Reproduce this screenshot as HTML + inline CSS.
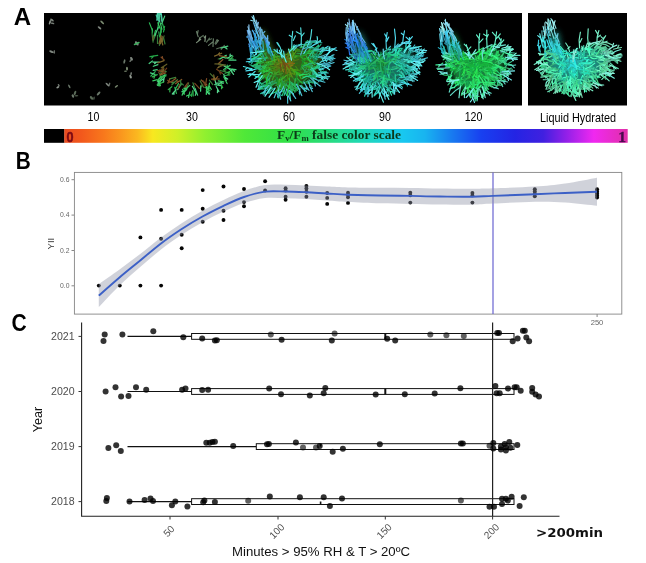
<!DOCTYPE html>
<html><head><meta charset="utf-8"><title>Figure</title>
<style>
html,body{margin:0;padding:0;background:#fff;}
svg{display:block}
text{font-family:"Liberation Sans",sans-serif}
.ser{font-family:"Liberation Serif",serif;font-weight:bold}
.dj{font-family:"DejaVu Sans",sans-serif;font-weight:bold}
.pl{font-family:"Liberation Sans",sans-serif;font-weight:bold;font-size:24px;fill:#000}
.cal{font-family:"Liberation Sans",sans-serif;font-size:12px;fill:#000}
.tk{font-size:6.8px;fill:#666}
.yr{font-size:10.6px;fill:#4d4d4d}
</style></head><body>
<svg width="646" height="563" viewBox="0 0 646 563">
<defs>
<linearGradient id="cb" x1="0" x2="1" y1="0" y2="0">
<stop offset="0" stop-color="#e84c20"/>
<stop offset="0.03" stop-color="#f2581c"/>
<stop offset="0.07" stop-color="#f8781c"/>
<stop offset="0.1" stop-color="#fa961e"/>
<stop offset="0.13" stop-color="#fbb820"/>
<stop offset="0.157" stop-color="#f8e820"/>
<stop offset="0.2" stop-color="#d0f028"/>
<stop offset="0.25" stop-color="#90f030"/>
<stop offset="0.32" stop-color="#50e838"/>
<stop offset="0.4" stop-color="#30e048"/>
<stop offset="0.47" stop-color="#28dc80"/>
<stop offset="0.53" stop-color="#20d8b8"/>
<stop offset="0.6" stop-color="#18c8f0"/>
<stop offset="0.64" stop-color="#18b4f0"/>
<stop offset="0.69" stop-color="#1878f0"/>
<stop offset="0.74" stop-color="#1840f0"/>
<stop offset="0.8" stop-color="#2424e4"/>
<stop offset="0.85" stop-color="#4020e0"/>
<stop offset="0.89" stop-color="#9020e8"/>
<stop offset="0.94" stop-color="#f028f0"/>
<stop offset="1" stop-color="#e030a8"/>
</linearGradient>
<filter id="bl" x="-5%" y="-5%" width="110%" height="110%"><feGaussianBlur stdDeviation="0.55"/></filter>
<filter id="bl2" x="-20%" y="-20%" width="140%" height="140%"><feGaussianBlur stdDeviation="3"/></filter>

<radialGradient id="g2" gradientUnits="userSpaceOnUse" cx="193" cy="63" r="48"><stop offset="0" stop-color="#802000"/><stop offset="0.5" stop-color="#b04818"/><stop offset="0.68" stop-color="#50c040"/><stop offset="0.85" stop-color="#30e070"/><stop offset="1" stop-color="#60f0b0"/></radialGradient>
<radialGradient id="g3" gradientUnits="userSpaceOnUse" cx="287" cy="66" r="50"><stop offset="0" stop-color="#706010"/><stop offset="0.25" stop-color="#4a9020"/><stop offset="0.55" stop-color="#30c050"/><stop offset="0.8" stop-color="#30d0b0"/><stop offset="1" stop-color="#50c8f0"/></radialGradient>
<radialGradient id="g4" gradientUnits="userSpaceOnUse" cx="385" cy="66" r="48"><stop offset="0" stop-color="#209050"/><stop offset="0.3" stop-color="#28b868"/><stop offset="0.6" stop-color="#30d0a0"/><stop offset="0.85" stop-color="#40d8d8"/><stop offset="1" stop-color="#60c8f0"/></radialGradient>
<radialGradient id="g5" gradientUnits="userSpaceOnUse" cx="476" cy="66" r="46"><stop offset="0" stop-color="#20a048"/><stop offset="0.4" stop-color="#30d060"/><stop offset="0.7" stop-color="#38e090"/><stop offset="1" stop-color="#60e8d8"/></radialGradient>
<radialGradient id="g6" gradientUnits="userSpaceOnUse" cx="577" cy="66" r="46"><stop offset="0" stop-color="#20b0a0"/><stop offset="0.4" stop-color="#30d8b0"/><stop offset="0.7" stop-color="#48e8a8"/><stop offset="1" stop-color="#70f0e0"/></radialGradient>
<linearGradient id="sp3" gradientUnits="userSpaceOnUse" x1="0" y1="50" x2="0" y2="15"><stop offset="0" stop-color="#30c0a0"/><stop offset="0.5" stop-color="#38a8e0"/><stop offset="1" stop-color="#80d0f0"/></linearGradient>
<linearGradient id="sp2" gradientUnits="userSpaceOnUse" x1="0" y1="48" x2="0" y2="15"><stop offset="0" stop-color="#b06020"/><stop offset="0.4" stop-color="#40c050"/><stop offset="1" stop-color="#50e0a0"/></linearGradient>
<linearGradient id="sp5" gradientUnits="userSpaceOnUse" x1="0" y1="50" x2="0" y2="15"><stop offset="0" stop-color="#30d080"/><stop offset="0.6" stop-color="#40c8d0"/><stop offset="1" stop-color="#80e0f0"/></linearGradient>
<clipPath id="c1"><rect x="44" y="13" width="478" height="92.5"/></clipPath><clipPath id="c2"><rect x="528" y="13" width="99" height="92.5"/></clipPath>
</defs>
<rect width="646" height="563" fill="#fff"/>
<text class="pl" x="13.8" y="24.6">A</text>
<rect x="44" y="13" width="478" height="92.5" fill="#000"/>
<rect x="528" y="13" width="99" height="92.5" fill="#000"/>
<g clip-path="url(#c1)">
<g filter="url(#bl)"><ellipse cx="49.8" cy="22.4" rx="2.3" ry="0.8" transform="rotate(107 49.8 22.4)" fill="#909890"/><ellipse cx="52.5" cy="23.3" rx="1.9" ry="0.8" transform="rotate(191 52.5 23.3)" fill="#909890" opacity="0.8"/><ellipse cx="52" cy="20" rx="2.1" ry="1.0" transform="rotate(36 52 20)" fill="#808880"/><ellipse cx="50.5" cy="21.4" rx="1.7" ry="0.8" transform="rotate(90 50.5 21.4)" fill="#808880" opacity="0.8"/><ellipse cx="102.2" cy="22.4" rx="2.5" ry="0.9" transform="rotate(45 102.2 22.4)" fill="#7a8a70"/><ellipse cx="99.5" cy="27.8" rx="2.2" ry="0.9" transform="rotate(39 99.5 27.8)" fill="#808880"/><ellipse cx="51.5" cy="51.7" rx="2.4" ry="1.1" transform="rotate(21 51.5 51.7)" fill="#808880"/><ellipse cx="54.3" cy="51.9" rx="1.9" ry="0.8" transform="rotate(91 54.3 51.9)" fill="#808880" opacity="0.8"/><ellipse cx="136.8" cy="43.4" rx="2.5" ry="1.2" transform="rotate(49 136.8 43.4)" fill="#808880"/><ellipse cx="131.5" cy="58.8" rx="2.0" ry="1.2" transform="rotate(62 131.5 58.8)" fill="#808880"/><ellipse cx="130.5" cy="60.7" rx="1.6" ry="0.8" transform="rotate(127 130.5 60.7)" fill="#808880" opacity="0.8"/><ellipse cx="124.4" cy="61.5" rx="2.3" ry="0.9" transform="rotate(103 124.4 61.5)" fill="#6a786a"/><ellipse cx="127" cy="68.6" rx="1.9" ry="1.0" transform="rotate(87 127 68.6)" fill="#7a8a70"/><ellipse cx="125.5" cy="71.2" rx="1.5" ry="0.8" transform="rotate(174 125.5 71.2)" fill="#7a8a70" opacity="0.8"/><ellipse cx="130.6" cy="76.6" rx="2.0" ry="1.1" transform="rotate(70 130.6 76.6)" fill="#909890"/><ellipse cx="131.1" cy="73.7" rx="1.6" ry="0.8" transform="rotate(103 131.1 73.7)" fill="#909890" opacity="0.8"/><ellipse cx="107.5" cy="84.6" rx="2.6" ry="0.8" transform="rotate(45 107.5 84.6)" fill="#808880"/><ellipse cx="109.4" cy="84.4" rx="2.0" ry="0.8" transform="rotate(106 109.4 84.4)" fill="#808880" opacity="0.8"/><ellipse cx="116.4" cy="86.4" rx="1.9" ry="0.8" transform="rotate(145 116.4 86.4)" fill="#7a8a70"/><ellipse cx="98.6" cy="93.5" rx="2.5" ry="1.0" transform="rotate(132 98.6 93.5)" fill="#6a786a"/><ellipse cx="91.5" cy="97.9" rx="2.1" ry="1.2" transform="rotate(49 91.5 97.9)" fill="#5a6a58"/><ellipse cx="94.0" cy="98.2" rx="1.7" ry="0.8" transform="rotate(98 94.0 98.2)" fill="#5a6a58" opacity="0.8"/><ellipse cx="72.9" cy="96.1" rx="1.8" ry="1.1" transform="rotate(64 72.9 96.1)" fill="#6a786a"/><ellipse cx="69.3" cy="86.4" rx="2.1" ry="0.8" transform="rotate(63 69.3 86.4)" fill="#6a786a"/><ellipse cx="57.8" cy="87.3" rx="1.6" ry="0.9" transform="rotate(149 57.8 87.3)" fill="#909890"/><ellipse cx="58.7" cy="85.2" rx="1.3" ry="0.8" transform="rotate(238 58.7 85.2)" fill="#909890" opacity="0.8"/><ellipse cx="75" cy="93" rx="2.4" ry="1.1" transform="rotate(109 75 93)" fill="#5a6a58"/><ellipse cx="76.4" cy="95.7" rx="1.9" ry="0.8" transform="rotate(177 76.4 95.7)" fill="#5a6a58" opacity="0.8"/><path d="M134.5 44.5L139 42.5" stroke="#40b060" stroke-width="1.5" stroke-linecap="round"/></g>
<g filter="url(#bl)" fill="none" stroke-linecap="round" stroke-width="1.2" opacity="0.9"><path d="M218.6 63.8L225.2 65.3M166.2 71.7L159.6 70.0M162.9 70.8l-2.8 1.3M209.4 80.2L212.8 84.6M177.4 79.6L171.9 84.8M174.6 82.2l-3.0 0.5M175.7 77.4L169.6 78.9M192.9 82.8L194.8 88.1M222.5 57.0L226.3 55.7" stroke="#409040"/><path d="M155.2 71.6L150.8 76.1M166.2 74.9L160.3 76.9M206.7 86.6L209.7 93.9M208.2 90.2l-1.8 3.4M174.8 87.3L176.4 93.3M226.2 57.5L233.3 59.0M178.5 83.6L175.7 88.5" stroke="#30d060"/><path d="M199.6 37.9L203.3 35.5M215.1 43.5L216.9 39.8M216.7 48.8L223.0 46.8M221.2 49.4L224.4 45.4M222.8 47.4l3.5 -0.2M206.6 42.2L209.5 38.2M208.1 40.2l3.6 -1.4" stroke="#607860"/><path d="M210.2 73.6L215.5 79.0M200.1 80.9L203.8 87.4M201.9 84.1l-0.2 2.7M188.6 82.8L186.2 90.2M187.4 86.5l-3.6 1.6M218.2 59.0L224.4 57.0M164.5 73.1L159.9 75.7M162.2 74.4l-3.0 -0.7" stroke="#4a7a38"/><path d="M159.3 62.2L152.9 62.1M156.1 62.2l-1.6 1.5M223.7 74.3L226.3 80.4M225.0 77.3l2.7 1.8M164.8 75.0L163.3 82.2M164.0 78.6l-3.2 2.2M222.9 65.2L229.7 69.2M206.4 90.8L209.1 94.1M227.6 58.2L232.1 55.3M229.9 56.7l0.3 -2.6M229.4 69.0L233.6 74.3M216.6 83.1L223.4 83.2M220.0 83.2l1.9 -1.4M192.4 86.3L195.9 92.5M216.2 86.5L218.9 91.6M217.6 89.1l-0.2 3.5M176.1 89.7L172.3 94.0M174.2 91.9l-0.3 2.6M214.7 78.8L216.0 84.1M158.6 80.8L157.7 85.5M158.2 83.1l2.1 2.6" stroke="#60f0a0"/><path d="M152.4 61.0L149.1 63.5M220.9 48.0L227.8 46.1M224.3 47.0l2.8 1.9M214.7 84.6L220.9 85.7M217.8 85.1l1.9 -1.3M157.9 64.6L153.3 66.3M228.3 68.1L233.5 70.2M230.9 69.1l1.1 2.8M229.5 68.8L236.0 69.6M232.8 69.2l1.6 2.2M195.1 88.5L197.6 95.1M196.3 91.8l-1.0 3.6M219.9 59.0L226.2 55.2M223.0 57.1l3.2 1.1M228.8 60.1L235.9 60.2M164.7 75.1L159.9 80.3M186.9 88.9L182.9 94.0M184.9 91.5l-3.0 0.2M155.1 74.4L150.4 72.9M181.6 83.5L177.6 89.6M157.2 69.6L153.2 70.3M200.8 85.8L200.6 91.2" stroke="#50e890"/><path d="M225.0 73.2L229.7 71.6M227.4 72.4l2.6 0.8M171.8 86.7L168.2 89.6M170.0 88.1l-0.2 3.8M192.9 90.5L193.2 96.0M165.9 75.9L158.9 78.6M164.0 81.8L157.2 84.9M160.6 83.3l-1.3 2.7M229.7 59.8L232.9 56.3M157.2 74.6L152.3 76.9M154.8 75.7l-0.9 2.5M204.9 87.3L209.9 90.6M207.4 89.0l2.1 -0.7M220.7 83.4L222.7 87.7M221.7 85.6l-0.2 3.1" stroke="#38c858"/><path d="M206.6 78.5L205.4 86.2M194.8 83.3L199.4 88.3M179.5 84.6L178.0 88.9M187.7 83.0L185.0 86.5M186.3 84.8l-0.4 3.9M164.2 59.9L161.1 57.2M162.6 58.6l-0.2 -2.1" stroke="#8a5028"/><path d="M209.5 83.2L208.0 89.5M189.9 91.8L188.5 97.5M189.2 94.7l-2.7 1.3M206.7 86.6L206.3 94.5M160.4 77.0L157.4 81.4M158.9 79.2l0.9 3.8M218.3 80.9L223.7 81.8M189.8 85.4L184.0 90.7M186.9 88.0l-2.9 0.6M223.7 69.4L230.2 65.3M226.9 67.3l0.3 -2.1M209.1 85.9L211.3 89.4M161.1 79.8L158.6 85.7M182.6 89.3L184.4 94.2M183.5 91.7l-1.4 3.5M157.2 79.6L152.8 80.8M223.7 76.8L227.1 83.6" stroke="#40e070"/><path d="M164.0 60.6L157.9 62.9M213.7 74.8L214.8 80.5M214.3 77.6l-1.1 2.3M214.5 56.1L221.7 53.2M218.1 54.7l1.4 -1.9M217.5 67.9L222.9 64.7M163.9 68.9L161.2 74.3" stroke="#8a7030"/><path d="M219.3 55.7L226.8 57.0M175.8 78.4L170.9 82.1M181.7 79.4L175.5 83.7M178.6 81.5l-2.2 -0.6M169.8 78.9L167.9 82.9M211.6 79.2L219.3 79.0M215.4 79.1l2.3 -2.5M201.3 80.0L206.9 85.0M218.3 63.7L222.9 59.5M165.7 72.9L160.0 74.6M163.3 71.5L158.2 70.6" stroke="#98602c"/><path d="M218.8 66.3L225.4 64.8M166.8 64.2L161.3 67.8M164.0 66.0l-1.4 3.7M214.9 63.9L220.6 64.1" stroke="#70682c"/><path d="M220.0 70.5L226.0 71.9M223.0 71.2l3.0 -1.6M180.6 80.4L180.8 85.3M180.7 82.9l2.7 2.1" stroke="#3a8a40"/><path d="M192.6 90.8L191.5 96.3M192.0 93.6l-1.7 1.8M225.3 75.5L229.8 74.8M227.5 75.1l1.2 -1.6M157.7 55.3L149.9 56.7M153.8 56.0l-2.2 2.2" stroke="#28b850"/><path d="M216.6 69.2L222.5 73.6M219.5 71.4l0.9 2.7M166.7 68.2L162.7 73.5M173.3 80.7L168.0 82.9M170.7 81.8l-3.2 -1.5M202.8 80.6L205.7 83.8M204.2 82.2l0.1 2.7M162.6 68.7L158.7 72.4M160.7 70.5l-3.3 -0.0" stroke="#7a4420"/><path d="M215.7 44.2L218.5 40.4M217.1 42.3l0.2 -2.5M213.0 46.5L213.4 38.9M208.5 45.4L213.1 41.7M198.2 36.7L196.5 31.6M197.4 34.1l0.7 -3.5" stroke="#708870"/><path d="M204.9 41.4L205.6 35.8M205.3 38.6l-1.3 -1.9M196.5 42.6L200.7 39.3M198.6 41.0l1.4 -3.2" stroke="#8aa088"/><path d="M159.4 45.4l1.8 -6.9M157.5 43.5l-0.0 -8.2M153.1 42.1l-1.0 -8.1M153.3 40.5l2.5 -6.3M165.0 44.0l-1.5 -6.5" stroke="#3a8a40"/><path d="M153.8 36.8l1.7 -6.5M152.2 33.2l0.2 -4.3M161.1 32.3l0.1 -4.4" stroke="#38c858"/><path d="M157.3 17.4l0.1 -4.3M162.3 21.6l-1.0 -7.9M159.7 21.9l-1.3 -4.2M156.8 20.2l1.8 -7.3M158.9 18.5l2.3 -7.6" stroke="#60e8c8"/><path d="M160.1 37.7l1.0 -8.5M157.8 29.2l0.8 -7.2M152.6 30.9l-3.2 -8.0" stroke="#30d060"/><path d="M159.5 36.4l-0.7 -4.5M164.4 29.8l-1.9 -6.0M163.5 31.9l1.1 -5.6" stroke="#28b850"/><path d="M162.4 41.1l1.7 -5.2" stroke="#4a7a38"/><path d="M159.2 17.1l0.6 -4.9M158.9 21.1l0.8 -4.9M157.9 20.2l-1.7 -5.2M161.3 21.1l0.0 -5.4M158.8 18.4l-0.2 -4.9" stroke="#50e0b0"/><path d="M160.5 43.7l0.8 -5.7M159.0 43.7l2.0 -8.0M162.4 41.7l-0.2 -5.3M162.8 45.0l-1.2 -4.4" stroke="#8a7030"/><path d="M152.5 39.8l1.3 -4.4" stroke="#70682c"/><path d="M160.0 28.3l-2.1 -5.4M161.9 29.1l-1.7 -6.3" stroke="#40e070"/><path d="M154.9 35.6l3.3 -8.0M161.7 23.8l3.0 -7.7" stroke="#50e890"/></g>
<g filter="url(#bl)" fill="none" stroke-linecap="round"><polygon points="261.8,29.0 266.3,35.4 270.1,44.3 274.6,52.6 279.7,55.2 286.1,53.9 291.2,51.3 297.6,50.1 304.0,47.5 309.1,47.5 314.2,50.1 320.6,53.3 322.5,57.1 318.1,64.8 315.5,73.7 306.5,81.4 297.6,85.2 287.4,91.6 278.4,87.8 265.6,85.2 264.3,76.3 255.4,67.3 260.5,57.1 258.6,48.1 258.0,39.2 259.9,32.8" fill="#4a8a2c" opacity="0.7" filter="url(#bl2)"/><path d="M276.2 61.3Q271.0 61.4 266.1 62.7M284.6 63.7Q288.6 66.2 288.8 70.9M288.6 66.2l-0.8 2.5M288.4 62.3Q283.4 61.9 278.4 62.1M283.4 61.9l-2.3 2.2M288.9 64.9Q285.7 70.6 285.5 77.2M282.6 72.2Q285.9 77.7 290.7 81.9M289.4 67.3Q295.4 66.6 301.1 64.7M283.5 70.4Q285.6 73.8 287.8 77.0M285.6 73.8l-0.6 4.0" stroke="#3c6414" stroke-width="1.15"/><path d="M314.8 56.6Q318.3 57.4 321.9 56.8M320.9 58.0Q325.4 59.2 329.7 57.8M315.4 77.3Q320.4 73.2 326.9 72.4M320.6 54.3Q323.0 50.9 325.6 47.8M323.0 50.9l3.5 -1.1M316.7 67.6Q319.8 69.4 323.5 69.8M319.8 69.4l2.0 4.3M308.2 69.7Q314.5 70.0 319.9 66.7" stroke="#3cc8b4" stroke-width="1.15"/><path d="M308.5 68.2Q312.0 69.2 314.6 66.8M268.7 62.3Q265.3 67.1 260.0 69.7M267.6 57.5Q261.1 57.8 255.6 61.1M261.1 57.8l-3.1 3.5M263.3 60.7Q258.1 63.0 253.0 65.5M258.1 63.0l-1.3 3.0M267.2 57.3Q263.4 61.4 257.9 62.1M264.6 58.1Q261.3 56.7 258.9 54.1M260.5 60.3Q256.4 57.0 251.2 56.5M256.4 57.0l-2.6 1.1" stroke="#28c864" stroke-width="1.15"/><path d="M282.1 72.6Q279.5 78.6 280.7 85.0M279.5 78.6l-3.7 2.8M295.7 69.0Q297.9 72.6 300.4 75.9M285.9 67.6Q291.6 69.4 296.5 72.7M291.6 69.4l1.4 4.7M278.4 70.7Q274.9 70.4 272.3 68.2M274.9 70.4l-2.0 -4.0M289.5 63.9Q293.6 64.6 297.5 63.2M280.2 58.2Q275.9 59.1 272.3 56.5M291.2 58.1Q294.9 59.1 298.6 58.0M294.9 59.1l3.9 -2.3M277.7 79.5Q280.9 81.8 281.1 85.9" stroke="#287814" stroke-width="1.15"/><path d="M285.0 78.3Q284.6 83.2 283.2 87.9M305.5 63.4Q309.3 68.2 310.8 74.1M309.3 68.2l3.0 0.8M280.3 58.7Q278.0 55.7 275.1 53.3M289.1 74.1Q292.2 76.5 294.5 79.7M287.2 81.7Q282.7 83.5 281.4 88.2M265.1 68.5Q262.6 73.4 263.2 78.8M262.6 73.4l2.0 2.7M263.9 67.4Q261.9 70.0 260.9 73.1M261.9 70.0l-3.2 1.8M289.5 49.6Q294.8 47.4 300.0 49.9M294.8 47.4l3.2 3.3M265.1 64.2Q263.0 60.1 259.0 57.7M292.0 49.4Q297.8 51.8 304.0 51.5M300.2 69.9Q301.4 65.2 306.2 63.9M301.4 65.2l3.4 0.2" stroke="#288c28" stroke-width="1.15"/><path d="M298.0 44.7Q304.5 44.5 310.9 44.1M304.5 44.5l3.0 -3.9M305.1 76.3Q310.6 76.5 315.8 78.3M310.6 76.5l2.8 -1.9M312.8 50.2Q318.0 48.7 321.0 44.2M318.0 48.7l0.3 -3.8M319.7 70.1Q323.2 71.8 325.9 74.6M323.2 71.8l3.3 -0.5M274.3 88.3Q270.5 89.8 268.9 93.5M258.5 77.6Q254.8 74.9 250.3 74.2M303.5 83.1Q309.0 79.9 315.1 81.5M309.0 79.9l2.4 1.4" stroke="#28b48c" stroke-width="1.15"/><path d="M279.4 79.0Q278.3 85.0 279.0 91.0" stroke="#3cc83c" stroke-width="1.15"/><path d="M281.7 69.9Q275.5 70.6 269.2 70.5M275.5 70.6l-2.2 -2.5M279.9 73.1Q280.2 76.8 283.4 78.8M290.3 50.7Q294.8 49.2 299.3 50.5M290.6 53.9Q291.0 49.0 295.4 47.0M291.0 49.0l3.0 -0.7M293.8 73.8Q298.0 73.2 302.1 72.3M282.4 71.3Q278.0 73.5 273.4 71.9M283.0 66.9Q287.4 69.1 292.3 70.0M287.4 69.1l3.4 -1.5M281.3 72.8Q281.1 77.0 281.2 81.2" stroke="#3c7814" stroke-width="1.15"/><path d="M284.7 57.8Q282.5 62.7 279.0 66.6M283.6 56.3Q289.1 58.4 291.5 64.0M281.4 63.5Q285.9 58.9 292.1 57.4M290.4 67.1Q289.9 62.8 291.1 58.7M289.9 62.8l-2.8 -3.3M285.4 59.0Q289.2 60.0 292.7 58.1M289.2 60.0l2.7 2.2" stroke="#787814" stroke-width="1.15"/><path d="M280.9 64.3Q274.2 63.2 269.9 57.9M274.2 63.2l-1.4 -2.6M277.2 58.4Q275.1 62.7 271.0 64.8M278.6 59.6Q274.5 59.9 272.5 63.4M274.5 59.9l-2.9 -0.8M290.1 63.5Q286.4 68.7 280.7 71.6M291.0 62.8Q290.0 58.2 292.9 54.6M280.8 68.3Q275.4 67.8 270.2 66.0M281.2 60.7Q276.4 56.6 270.4 54.6M288.3 71.9Q292.6 73.6 296.8 75.6" stroke="#508c14" stroke-width="1.15"/><path d="M269.2 72.2Q266.5 77.9 268.5 83.9M286.9 81.8Q292.4 83.4 297.9 84.8M267.9 49.2Q262.5 51.8 256.6 50.4M298.1 82.1Q303.4 81.2 308.3 83.4M303.4 81.2l3.8 -3.2" stroke="#148c3c" stroke-width="1.15"/><path d="M280.2 70.9Q277.1 72.2 274.4 74.3M277.1 72.2l-2.1 3.8M275.1 70.7Q274.9 75.5 272.4 79.6M272.1 71.6Q270.1 67.6 265.7 67.4M270.1 67.6l-4.7 0.1M285.1 54.3Q291.0 55.9 297.1 56.6M291.0 55.9l2.6 4.2M275.2 63.9Q269.0 64.5 262.9 65.8M269.0 64.5l-2.4 -1.8M280.5 56.1Q275.4 56.0 271.0 58.7M275.4 56.0l-3.6 -1.7M297.3 74.2Q301.2 74.4 305.1 74.6M283.3 76.0Q280.7 80.5 276.6 83.7M282.1 53.9Q276.5 51.5 270.3 51.7M276.5 51.5l-1.9 -2.1" stroke="#3ca028" stroke-width="1.15"/><path d="M274.8 60.3Q270.4 64.7 264.2 64.8M286.6 80.0Q281.4 83.0 275.9 85.5M281.4 83.0l-1.9 4.2M304.3 52.9Q307.9 52.6 309.7 49.4M307.9 52.6l3.4 0.8M263.9 66.5Q260.0 65.8 256.9 68.3M260.0 65.8l-1.7 1.9M293.2 87.5Q292.1 91.2 289.9 94.4M292.1 91.2l1.3 4.3M306.2 74.7Q311.5 71.7 316.5 68.2M277.1 77.8Q279.2 83.6 278.3 89.7M275.7 81.9Q271.5 86.5 265.4 88.2M301.5 69.1Q306.5 65.6 312.6 66.2M306.5 65.6l3.2 1.4M268.1 58.7Q265.6 55.4 263.3 51.9M265.6 55.4l0.4 -2.7" stroke="#28a03c" stroke-width="1.15"/><path d="M289.9 81.5Q295.3 84.6 297.5 90.5M295.3 84.6l0.0 4.1M267.3 73.9Q263.5 77.0 260.3 80.7M263.5 77.0l-3.9 0.3M266.9 57.4Q263.0 58.7 258.9 59.4M263.0 58.7l-4.5 -1.8M261.8 75.9Q259.1 78.4 257.1 81.5M264.6 66.3Q261.2 66.4 258.0 65.8M308.6 73.5Q313.2 77.9 315.7 83.7M313.2 77.9l3.2 1.2" stroke="#28b464" stroke-width="1.15"/><path d="M262.5 49.8Q258.8 43.2 255.1 36.6M258.8 43.2l0.8 -2.8M255.8 40.6Q255.0 35.6 253.0 30.9M255.0 35.6l1.5 -4.0M261.2 43.9Q260.8 39.5 260.3 35.0M260.8 39.5l-1.6 -2.2M258.8 39.0Q257.4 33.6 255.9 28.3" stroke="#3c8cc8" stroke-width="1.15"/><path d="M279.4 68.3Q274.4 68.8 271.8 73.0M274.4 68.8l-2.6 -0.7M286.3 67.8Q287.4 73.7 288.0 79.7M287.4 73.7l3.4 3.0M289.6 76.3Q289.1 80.4 285.1 80.9M287.3 53.4Q292.0 51.1 295.4 47.2M292.0 51.1l0.2 -4.7M295.7 66.4Q297.1 69.7 300.4 71.2M279.4 59.9Q275.4 65.1 273.4 71.3M287.0 68.4Q291.9 70.4 296.6 73.0M291.9 70.4l3.7 -0.2M278.9 62.3Q278.2 68.6 280.0 74.7" stroke="#3c8c14" stroke-width="1.15"/><path d="M290.0 64.2Q290.4 60.9 291.9 58.0M290.4 60.9l2.3 -1.6M282.0 68.8Q277.7 65.3 273.6 61.6M286.2 65.1Q288.1 67.7 290.3 69.8M280.7 64.5Q277.7 66.6 274.6 64.4M283.5 62.9Q279.8 67.2 274.9 70.0" stroke="#506414" stroke-width="1.15"/><path d="M311.1 70.7Q315.0 68.2 318.0 64.7M315.0 68.2l4.0 -0.8M286.9 85.2Q290.3 90.0 296.0 91.1M301.0 47.5Q305.3 44.3 310.7 44.8M286.2 83.9Q284.5 90.0 282.1 95.7M284.5 90.0l-2.7 1.5M290.4 85.9Q290.8 90.1 289.4 94.1M290.8 90.1l1.7 3.0M280.6 89.3Q275.8 92.2 270.6 94.3M290.9 83.1Q294.6 87.0 299.5 89.6" stroke="#28c878" stroke-width="1.15"/><path d="M305.9 41.8Q310.6 39.9 314.8 42.7M290.3 81.8Q291.9 86.3 294.2 90.5M291.9 86.3l-1.3 4.0M306.8 81.9Q312.4 83.0 318.0 83.1M312.4 83.0l2.3 -1.2M277.8 82.1Q272.0 84.5 266.0 86.6M264.5 72.2Q260.7 66.8 254.4 64.9M260.7 66.8l-0.8 -4.0M311.5 68.5Q316.2 72.6 320.3 77.2M316.2 72.6l0.1 3.4M310.2 51.3Q315.1 49.1 320.1 51.2" stroke="#28a064" stroke-width="1.15"/><path d="M280.9 68.0Q276.8 67.6 274.1 64.4M286.1 58.1Q288.5 55.0 292.1 53.9M288.5 55.0l0.5 -3.8M288.7 67.3Q293.0 68.1 295.6 71.7M282.3 62.1Q285.1 58.5 284.8 54.0M292.3 62.6Q289.4 67.7 287.5 73.2M289.4 67.7l0.3 2.8M289.4 65.3Q290.1 60.8 291.3 56.4" stroke="#647814" stroke-width="1.15"/><path d="M287.3 89.3Q290.5 94.2 290.5 100.0M268.1 89.3Q264.7 92.0 260.7 93.6M264.7 92.0l-0.7 3.1M315.6 62.9Q318.6 65.2 321.8 67.1M318.6 65.2l1.7 4.0M305.2 47.3Q309.8 46.4 314.3 48.1M259.2 77.0Q260.5 82.7 258.5 88.2M260.5 82.7l2.8 4.0M311.4 67.0Q314.4 72.1 318.3 76.5M314.4 72.1l-0.5 4.3M283.7 88.0Q285.1 91.8 286.7 95.5M285.1 91.8l-0.9 3.5" stroke="#28c8a0" stroke-width="1.15"/><path d="M310.0 66.0Q313.0 70.2 316.6 73.8M313.0 70.2l0.0 3.5M319.3 54.1Q322.5 51.4 323.6 47.4M322.5 51.4l-0.6 -3.0" stroke="#3cdcb4" stroke-width="1.15"/><path d="M265.3 60.5Q262.1 53.8 259.9 46.7M270.8 55.7Q268.7 49.6 266.9 43.4" stroke="#28a0a0" stroke-width="1.15"/><path d="M284.1 59.7Q289.9 58.0 295.8 57.2" stroke="#50a028" stroke-width="1.15"/><path d="M256.7 47.9Q256.4 43.5 255.0 39.2M256.4 43.5l1.8 -2.7M327.3 58.0Q330.4 57.1 333.6 57.9M330.4 57.1l2.6 3.0M322.5 61.0Q326.3 63.3 328.4 67.3" stroke="#3cb4c8" stroke-width="1.15"/><path d="M301.7 66.4Q303.4 70.1 306.9 72.3M280.5 83.0Q281.7 87.1 278.3 89.8M262.7 54.9Q259.5 51.8 255.3 50.4M305.8 53.5Q310.0 53.4 314.2 53.2M295.4 78.6Q293.9 84.7 296.1 90.6M293.9 84.7l-2.9 3.5M271.9 76.0Q267.2 75.7 262.3 75.8M300.1 47.6Q303.9 47.3 306.0 44.1" stroke="#28b450" stroke-width="1.15"/><path d="M265.5 57.7Q259.9 57.1 254.4 58.3M289.8 81.4Q291.5 87.3 295.0 92.3M270.8 86.1Q267.2 84.4 264.0 86.9M267.2 84.4l-2.3 2.1M304.6 63.5Q309.7 65.7 314.9 67.7M309.7 65.7l1.3 2.4M300.0 75.4Q304.5 71.8 310.2 70.5M304.5 71.8l2.1 -3.9M287.1 85.6Q292.3 88.2 297.9 89.6M297.0 53.2Q301.8 53.2 306.5 54.7M281.6 78.6Q283.8 83.3 283.2 88.5M283.8 83.3l2.4 1.7M275.6 79.9Q272.7 84.0 267.6 83.8M272.7 84.0l-1.9 3.4" stroke="#28a050" stroke-width="1.15"/><path d="M271.3 75.1Q269.5 78.9 266.9 82.2M269.5 78.9l0.1 4.0M289.3 78.1Q290.8 84.9 287.4 90.9M263.2 62.5Q259.4 64.3 256.1 61.5M296.4 72.8Q297.8 76.7 295.8 80.2M296.6 77.9Q299.3 80.7 302.2 83.3M306.3 54.5Q308.6 51.8 310.5 48.8M308.6 51.8l4.0 -0.9" stroke="#28b43c" stroke-width="1.15"/><path d="M302.1 60.2Q304.2 63.1 307.4 64.4M304.2 63.1l2.9 -0.2M302.3 65.4Q305.6 65.1 308.9 64.3M305.6 65.1l4.2 2.3M304.3 58.3Q308.6 60.5 313.3 61.5M293.9 70.9Q299.7 73.3 304.5 77.2" stroke="#28b428" stroke-width="1.15"/><path d="M285.9 67.7Q290.0 67.5 293.1 64.8M283.5 71.8Q281.6 65.7 278.5 60.1M281.6 65.7l1.6 -3.1M285.8 60.6Q286.7 65.6 290.8 68.6M286.7 65.6l-0.4 4.0" stroke="#8c7814" stroke-width="1.15"/><path d="M322.6 51.0Q327.6 50.5 332.4 48.7M327.6 50.5l2.9 0.8M325.5 59.5Q325.6 54.2 330.1 51.4M281.8 54.8Q277.5 52.9 274.0 49.7M277.5 52.9l-0.4 -3.9M303.8 53.7Q307.7 48.1 309.1 41.5M307.7 48.1l3.1 -1.4M310.2 47.2Q315.1 43.8 320.6 41.6M320.3 51.7Q323.9 48.4 328.2 46.3M323.9 48.4l2.9 -0.3M328.9 48.7Q333.1 49.0 336.9 50.5M333.1 49.0l3.1 -1.2M319.0 69.7Q324.9 67.8 330.8 66.0M315.1 76.2Q321.4 78.3 328.0 78.2M321.4 78.3l1.9 1.6M258.4 68.2Q252.4 70.5 246.0 70.9M252.4 70.5l-3.5 -2.1M257.9 61.0Q252.1 61.1 246.3 61.7M252.1 61.1l-2.9 -2.7M261.1 58.5Q254.2 59.7 247.2 59.0" stroke="#50dcf0" stroke-width="1.15"/><path d="M256.1 49.0Q255.2 44.5 254.3 40.0" stroke="#2878a0" stroke-width="1.15"/><path d="M256.4 37.4Q254.6 33.7 252.3 30.2M269.6 47.6Q267.3 41.8 264.2 36.5M267.3 41.8l0.5 -3.7" stroke="#50b4f0" stroke-width="1.15"/><path d="M250.2 45.4Q248.4 37.9 247.9 30.3" stroke="#508cc8" stroke-width="1.15"/><path d="M280.7 77.4Q281.2 83.3 285.9 86.9" stroke="#288c3c" stroke-width="1.15"/><path d="M260.8 54.5Q257.6 47.4 254.3 40.4" stroke="#2878b4" stroke-width="1.15"/><path d="M310.5 56.3Q313.8 57.7 316.8 56.0M313.8 57.7l3.2 1.7M313.2 52.6Q314.2 47.8 318.5 45.4M281.9 89.5Q279.1 93.3 277.9 97.8M308.4 57.9Q310.4 52.8 314.7 49.4M311.7 52.3Q314.7 50.3 318.3 50.9M314.7 50.3l4.7 1.5M307.2 42.8Q311.9 41.9 316.7 41.2M312.0 69.9Q316.6 68.4 319.5 64.4M272.5 88.0Q268.5 89.0 268.0 93.1M262.3 70.9Q257.0 68.3 251.5 65.7" stroke="#28c88c" stroke-width="1.15"/><path d="M272.9 81.0Q267.9 83.2 264.7 87.5M310.0 58.8Q312.3 55.5 316.1 54.0M312.3 55.5l1.1 -4.5M301.4 85.3Q304.3 87.7 304.7 91.5M304.3 87.7l3.1 1.7M268.1 75.9Q265.6 81.4 266.2 87.5M265.6 81.4l-3.1 2.3M261.9 71.7Q259.6 67.9 255.3 67.1M259.6 67.9l-4.0 0.7M303.5 66.3Q308.7 63.3 314.6 62.7M308.7 63.3l3.9 2.1M297.1 83.6Q300.0 88.8 299.7 94.7M300.0 88.8l-1.1 2.4M307.7 80.8Q309.0 84.5 312.1 86.9M257.0 60.6Q253.2 60.4 250.6 57.6M268.5 87.9Q263.3 89.3 258.0 89.1M263.3 89.3l-2.4 -1.9M269.9 78.1Q265.9 83.1 259.6 83.9M260.7 65.6Q255.2 66.9 249.8 64.8" stroke="#28b478" stroke-width="1.15"/><path d="M274.6 74.5Q277.4 78.6 277.9 83.6M277.4 78.6l-0.6 3.0M296.0 75.4Q296.2 80.5 298.8 85.0M301.2 66.1Q302.6 61.3 307.2 59.3M302.6 61.3l0.3 -4.7M301.1 55.9Q305.1 55.4 307.2 52.0" stroke="#148c28" stroke-width="1.15"/><path d="M318.3 64.2Q324.9 65.0 330.7 62.0M324.6 56.9Q329.7 57.6 334.0 54.7M329.7 57.6l2.6 -2.4M321.8 57.5Q327.4 57.9 331.9 61.1M293.4 50.4Q296.7 46.1 301.5 43.8M296.7 46.1l2.8 -0.5M306.1 42.8Q310.7 40.8 315.7 40.7M323.2 58.4Q329.1 59.9 335.0 58.5M329.1 59.9l2.0 -1.7M322.2 66.2Q328.3 64.7 334.1 62.5M312.9 78.0Q318.5 81.3 324.9 82.2M318.5 81.3l3.0 -1.5M309.7 77.2Q314.4 82.4 320.3 86.2M314.4 82.4l1.0 3.6M308.7 82.0Q309.5 87.1 312.3 91.6M309.5 87.1l3.1 1.4M303.9 82.1Q306.2 86.4 309.1 90.4M306.2 86.4l0.1 2.5M299.9 85.5Q302.9 88.8 306.5 91.6M302.9 88.8l3.7 -0.1M296.4 84.5Q299.9 89.7 301.8 95.7M299.9 89.7l-0.6 3.7M289.0 90.3Q293.4 93.5 295.7 98.4M293.4 93.5l0.3 2.5M286.4 89.0Q287.3 95.4 290.8 100.9M287.5 92.1Q287.6 97.7 287.7 103.2M277.7 86.8Q278.7 93.1 280.7 99.2M284.2 85.4Q281.6 91.5 277.5 96.9M281.6 91.5l-2.8 1.4M279.9 85.1Q276.6 91.2 274.2 97.7M276.6 91.2l1.1 3.9M270.0 84.1Q265.4 88.2 262.8 93.8M265.4 88.2l-0.3 4.2M264.7 84.9Q260.7 86.4 257.8 89.5M260.7 86.4l-2.6 -0.4" stroke="#50c8dc" stroke-width="1.15"/><path d="M276.9 63.4Q274.7 60.9 271.3 60.5M274.7 60.9l-3.0 1.0M281.3 60.8Q277.6 63.5 274.3 66.7M289.4 65.8Q287.3 59.6 288.3 53.1M287.3 59.6l-2.0 -2.4M283.3 66.7Q277.7 68.9 272.0 70.7M277.7 68.9l-1.6 2.2M282.9 66.9Q281.8 61.1 285.4 56.4M281.8 61.1l2.9 -1.7M285.9 61.2Q292.5 62.0 298.5 59.5M292.5 62.0l2.0 -2.1M280.4 67.7Q285.7 69.1 290.9 67.2" stroke="#507814" stroke-width="1.15"/><path d="M256.2 49.4Q254.4 45.6 253.5 41.4M260.2 47.2Q259.5 42.4 258.4 37.6M260.6 44.5Q260.9 40.1 260.3 35.7M260.9 40.1l2.8 -3.3M273.4 56.0Q271.1 51.8 269.9 47.2M271.1 51.8l-2.8 -1.6" stroke="#3cb4f0" stroke-width="1.15"/><path d="M255.3 58.1Q252.7 61.5 248.7 62.9M252.7 61.5l-1.1 2.3M275.5 92.1Q279.0 94.0 278.6 98.0M279.0 94.0l2.7 1.5" stroke="#28b4a0" stroke-width="1.15"/><path d="M306.6 56.8Q309.6 61.9 314.9 64.4M309.6 61.9l2.9 0.4M272.7 73.4Q266.8 71.6 262.6 67.1M266.8 71.6l-0.5 -2.8M269.5 73.8Q263.9 77.6 257.3 76.5M263.9 77.6l-3.0 -1.7M266.4 65.3Q263.9 69.5 261.0 73.5M289.4 84.1Q287.1 89.7 287.3 95.7" stroke="#28c850" stroke-width="1.15"/><path d="M253.7 43.3Q251.2 38.6 248.5 34.0M251.2 38.6l-4.6 -1.7M252.8 52.5Q253.1 45.2 252.3 37.9M256.3 54.0Q254.0 48.2 252.4 42.2" stroke="#288cb4" stroke-width="1.15"/><path d="M302.4 78.2Q307.2 75.3 312.7 76.1M270.7 84.3Q264.1 85.1 259.2 89.7" stroke="#28dc8c" stroke-width="1.15"/><path d="M267.0 75.5Q262.5 76.6 257.9 76.7M262.5 76.6l-3.0 2.8M267.4 68.9Q263.4 70.1 259.3 71.1M263.4 70.1l-3.0 3.2M278.6 82.2Q279.3 87.5 275.8 91.7M295.0 55.3Q300.8 57.0 306.6 55.0M300.8 57.0l3.9 3.0M273.0 59.0Q269.4 63.6 266.6 68.9M269.4 63.6l-2.5 0.3M280.7 79.7Q283.0 84.4 281.1 89.2M283.0 84.4l3.0 3.3" stroke="#28a028" stroke-width="1.15"/><path d="M258.5 37.0Q256.9 32.6 256.1 28.1M256.9 32.6l-2.1 -2.0M256.9 33.4Q256.1 28.0 256.5 22.6M252.2 41.7Q251.7 36.4 250.5 31.1" stroke="#3c8cb4" stroke-width="1.15"/><path d="M256.3 54.5Q255.6 50.3 255.7 46.0M255.6 50.3l2.9 -3.8" stroke="#3cb4dc" stroke-width="1.15"/><path d="M306.0 48.5Q309.9 46.4 312.3 42.6M309.9 46.4l0.5 -4.8M317.5 80.2Q320.6 79.5 323.8 79.6M310.2 41.6Q316.1 41.6 321.9 42.8M257.5 59.5Q253.5 56.3 251.4 51.6M253.5 56.3l-3.1 -0.7M270.1 86.3Q269.7 91.6 265.3 94.5M269.7 91.6l-2.3 1.1" stroke="#28a08c" stroke-width="1.15"/><path d="M272.6 60.5Q271.2 54.8 269.4 49.2" stroke="#148c78" stroke-width="1.15"/><path d="M263.5 50.3Q263.2 45.8 262.8 41.3" stroke="#28b4c8" stroke-width="1.15"/><path d="M258.2 46.8Q255.8 40.8 254.2 34.5" stroke="#28a0dc" stroke-width="1.15"/><path d="M293.8 57.6Q292.0 54.0 292.0 49.9" stroke="#287828" stroke-width="1.15"/><path d="M318.4 57.1Q323.2 55.8 327.8 53.7M323.2 55.8l3.2 1.3M300.7 55.0Q302.3 49.3 305.0 44.1M302.3 49.3l2.6 -1.1" stroke="#50b4c8" stroke-width="1.15"/><path d="M250.3 39.6Q249.6 34.8 248.2 30.1M259.0 36.7Q255.7 29.9 253.6 22.6M253.4 47.7Q249.5 42.3 247.6 36.0" stroke="#64c8f0" stroke-width="1.15"/><path d="M290.4 67.7Q294.0 69.6 294.6 73.5M294.0 69.6l4.0 0.7M291.7 59.1Q293.3 54.8 296.1 51.1M293.3 54.8l-0.3 -3.7" stroke="#50a014" stroke-width="1.15"/><path d="M287.8 67.3Q290.3 72.0 292.2 77.0M290.3 72.0l-0.4 2.6M289.7 59.5Q289.5 66.3 285.7 71.8M286.7 61.8Q281.4 61.6 277.0 64.8M281.4 61.6l-1.4 2.2M289.6 63.5Q290.6 59.4 292.8 55.8" stroke="#648c14" stroke-width="1.15"/><path d="M309.6 48.5Q314.1 49.6 318.7 49.1" stroke="#28a078" stroke-width="1.15"/><path d="M321.5 63.8Q326.3 63.1 330.3 66.0M326.3 63.1l2.6 2.7" stroke="#3ca0b4" stroke-width="1.15"/><path d="M326.3 61.7Q328.4 57.5 333.1 56.8M318.3 72.9Q323.3 72.6 328.2 73.0M323.3 72.6l2.9 3.3" stroke="#3cc8c8" stroke-width="1.15"/><path d="M267.5 48.0Q265.5 40.5 262.4 33.3M252.1 45.1Q249.3 38.8 247.7 32.2M249.3 38.8l-2.2 -2.0" stroke="#3c78b4" stroke-width="1.15"/><path d="M274.8 62.2Q273.6 58.2 274.3 54.1M275.9 59.5Q271.2 62.2 265.8 62.3M286.4 75.4Q284.0 77.9 281.1 79.7M296.4 73.0Q300.0 74.8 301.2 78.6" stroke="#3cb428" stroke-width="1.15"/><path d="M283.7 64.8Q285.4 69.1 286.2 73.6" stroke="#786414" stroke-width="1.15"/><path d="M313.5 60.5Q315.5 55.4 318.3 50.8M315.5 55.4l2.9 -0.7" stroke="#148c64" stroke-width="1.15"/><path d="M260.9 35.6Q257.7 29.2 254.0 23.0" stroke="#508cb4" stroke-width="1.15"/><path d="M282.4 73.5Q277.2 75.5 271.9 74.0M271.0 68.2Q268.0 73.2 265.0 78.1M268.0 73.2l-4.5 1.7" stroke="#3c8c28" stroke-width="1.15"/><path d="M260.6 37.7Q259.9 32.3 260.1 27.0M259.9 32.3l1.8 -3.0" stroke="#64a0c8" stroke-width="1.15"/><path d="M255.3 46.9Q253.1 42.2 250.2 37.9M268.2 52.1Q268.0 46.1 266.4 40.5M268.0 46.1l1.4 -3.9M250.8 53.8Q251.2 48.6 248.8 44.0M251.2 48.6l-2.1 -2.0" stroke="#3ca0f0" stroke-width="1.15"/><path d="M294.5 63.4Q289.5 62.4 284.8 64.3" stroke="#8c6414" stroke-width="1.15"/><path d="M269.1 53.6Q267.4 48.8 266.3 43.8" stroke="#28b4b4" stroke-width="1.15"/><path d="M316.0 60.4Q317.5 55.3 321.9 52.2" stroke="#14a078" stroke-width="1.15"/><path d="M315.6 74.9Q320.9 74.9 324.8 78.4M320.9 74.9l1.5 3.8" stroke="#50f0dc" stroke-width="1.15"/><path d="M314.1 49.4Q319.9 49.2 325.7 50.2M319.9 49.2l2.9 -1.9" stroke="#3cb4b4" stroke-width="1.15"/><path d="M289.1 68.2Q288.4 64.5 285.0 62.9M281.1 58.9Q283.8 61.9 285.5 65.6M283.8 61.9l-0.9 2.6" stroke="#785014" stroke-width="1.15"/><path d="M251.4 51.7Q251.8 45.8 250.8 39.8M250.4 60.6Q251.4 54.5 249.8 48.6M251.4 54.5l1.9 -1.8" stroke="#28a0c8" stroke-width="1.15"/><path d="M282.2 61.1Q285.7 65.7 285.8 71.4M285.7 65.7l-1.5 2.4M280.2 63.6Q280.9 67.3 280.8 71.1" stroke="#645014" stroke-width="1.15"/><path d="M270.3 84.5Q264.7 83.7 259.5 86.1M309.0 56.5Q313.5 57.5 315.1 61.9" stroke="#148c50" stroke-width="1.15"/><path d="M261.5 53.0Q257.5 57.0 252.1 59.1" stroke="#28dca0" stroke-width="1.15"/><path d="M319.9 62.8Q322.5 59.5 326.7 60.6M322.5 59.5l2.7 -3.0M291.8 48.2Q291.5 39.8 292.7 31.3M292.4 37.2l-3.2 -2.0M293.3 40.4l2.1 -4.6M301.1 46.4Q301.9 37.1 300.7 27.8M300.8 34.3l-4.5 -2.5M301.3 36.7l2.9 -3.7M309.6 42.9Q311.2 36.2 311.7 29.5M315.8 42.9Q318.4 39.8 317.1 36.6M316.3 43.4l4.3 -3.1M281.5 51.7Q280.7 47.3 277.6 42.9M279.0 46.0l-2.1 -3.4" stroke="#50dcdc" stroke-width="1.15"/><path d="M269.9 69.3Q266.9 71.6 263.2 72.2M266.9 71.6l-3.7 -1.0M266.3 77.4Q266.6 81.5 267.1 85.5" stroke="#28c83c" stroke-width="1.15"/><path d="M323.7 48.2Q326.9 49.2 329.8 47.5" stroke="#3cb4a0" stroke-width="1.15"/><path d="M308.7 77.7Q311.7 75.3 315.4 76.1M311.7 75.3l4.2 2.5" stroke="#14a050" stroke-width="1.15"/><path d="M299.3 75.6Q303.0 74.1 307.0 74.3" stroke="#28dc64" stroke-width="1.15"/><path d="M292.3 61.5Q286.6 59.2 281.8 55.4M286.6 59.2l-1.5 -4.5" stroke="#646414" stroke-width="1.15"/><path d="M257.8 27.9Q254.8 22.0 253.3 15.5M257.6 26.5Q254.9 21.5 252.0 16.8M254.9 21.5l-4.2 -1.2" stroke="#8cdcf0" stroke-width="1.15"/><path d="M260.8 32.2Q257.5 26.6 256.2 20.2M257.5 26.6l0.9 -4.2M252.3 39.0Q250.2 33.0 247.9 26.9M250.2 33.0l-2.7 -2.1" stroke="#78b4dc" stroke-width="1.15"/><path d="M261.9 41.0Q260.8 34.5 260.6 27.9M262.9 38.0Q262.8 33.7 261.9 29.6M262.8 33.7l2.1 -2.3" stroke="#64b4dc" stroke-width="1.15"/><path d="M269.4 44.2Q267.5 38.7 263.4 34.6M267.5 38.7l0.2 -3.2" stroke="#64b4f0" stroke-width="1.15"/><path d="M282.2 58.0Q280.9 54.1 279.4 50.4M280.9 54.1l1.0 -4.2M291.5 60.2Q290.7 54.4 288.5 49.1M327.0 55.1Q329.3 51.1 333.6 49.4M329.3 51.1l0.5 -4.3M317.5 63.2Q324.1 65.5 329.6 69.8M275.1 88.1Q272.3 92.8 269.0 97.3M271.1 87.1Q268.0 91.6 265.0 96.3M262.3 75.7Q258.1 80.9 256.0 87.3M258.1 80.9l-3.9 1.6M259.7 74.7Q254.5 74.6 249.4 73.9M264.0 51.1Q257.5 52.2 250.8 52.8M257.5 52.2l-2.8 3.1" stroke="#64f0f0" stroke-width="1.15"/><path d="M286.2 62.1Q283.6 57.0 283.7 51.2M283.6 57.0l-2.3 -2.5M290.1 51.1Q293.3 48.3 296.2 45.2M293.3 48.3l0.8 -3.5M261.0 72.8Q258.6 76.3 254.9 78.4M258.6 76.3l-3.0 0.4M255.1 71.4Q252.0 74.2 248.8 77.0M252.0 74.2l-4.2 0.3M252.1 68.8Q247.8 67.6 243.4 66.5M247.8 67.6l-2.3 1.6" stroke="#50f0f0" stroke-width="1.15"/><path d="M319.6 77.5Q324.6 76.5 329.6 76.6M324.6 76.5l3.0 2.8" stroke="#50c8c8" stroke-width="1.15"/><path d="M251.6 41.0Q250.6 35.3 247.2 30.6" stroke="#64a0dc" stroke-width="1.15"/><path d="M249.0 34.1Q249.0 29.5 248.9 24.9" stroke="#8cc8f0" stroke-width="1.15"/></g>
<g filter="url(#bl)" fill="none" stroke-linecap="round"><polygon points="359.1,30.3 363.2,36.4 366.6,45.0 370.7,53.0 375.4,55.4 381.2,54.2 385.8,51.7 391.7,50.5 397.5,48.1 402.1,48.1 406.8,50.5 412.6,53.6 414.4,57.3 410.3,64.6 408.0,73.2 399.8,80.6 391.7,84.3 382.4,90.4 374.2,86.7 362.6,84.3 361.4,75.7 353.3,67.1 357.9,57.3 356.2,48.7 355.6,40.1 357.3,33.9" fill="#24a08a" opacity="0.7" filter="url(#bl2)"/><path d="M380.2 68.4Q374.5 67.1 369.1 69.6M375.2 65.4Q372.7 67.6 369.9 69.6M372.7 67.6l-3.8 0.3M381.8 64.7Q377.4 64.5 373.2 63.7M377.4 64.5l-3.1 -3.0M377.9 59.4Q381.7 61.8 385.7 63.6M377.9 67.0Q372.4 64.3 366.3 64.8M372.4 64.3l-2.3 -3.2M377.2 60.9Q380.8 57.3 381.0 52.2M380.8 57.3l3.3 -0.9M380.4 63.7Q381.5 60.4 384.8 59.3M381.5 60.4l3.6 0.1M372.1 64.9Q367.7 65.4 363.9 63.1M367.7 65.4l-2.1 1.5" stroke="#14a050" stroke-width="1.15"/><path d="M411.0 58.3Q415.4 61.7 419.9 65.0M415.4 61.7l2.9 0.1M377.7 82.1Q379.9 87.1 383.4 91.2M408.2 72.9Q412.3 76.1 417.3 77.3M412.3 76.1l1.1 2.3M415.6 55.1Q418.9 52.0 423.3 53.3M418.9 52.0l2.5 -3.2M409.0 60.8Q414.6 58.0 420.8 59.3M363.1 83.9Q361.8 87.8 357.8 88.7M361.8 87.8l0.2 3.4M381.8 91.2Q382.3 94.8 385.7 96.2M412.1 73.0Q416.2 74.9 419.6 72.0M409.9 51.9Q415.4 52.4 419.0 48.3M388.7 89.2Q385.4 92.1 386.8 96.2M385.4 92.1l-2.1 1.7M363.7 80.8Q358.2 80.5 353.6 77.4M358.2 80.5l-2.9 0.8M408.2 79.6Q411.6 78.2 415.3 78.7M399.2 77.7Q404.7 77.1 409.9 79.0M404.7 77.1l2.3 2.5M393.8 83.2Q396.9 84.9 396.6 88.3" stroke="#3cc8c8" stroke-width="1.15"/><path d="M384.2 65.3Q384.7 68.6 386.8 71.3M382.4 60.0Q381.9 63.5 379.8 66.4M381.9 63.5l0.7 4.5M378.3 61.8Q381.3 65.1 385.6 64.2M381.2 64.9Q384.2 69.7 383.4 75.4M384.2 69.7l-2.4 3.7M381.4 71.1Q376.8 69.2 372.0 67.6M376.8 69.2l-1.4 -3.8" stroke="#28a050" stroke-width="1.15"/><path d="M396.3 51.2Q396.7 47.0 400.1 44.5M356.4 74.3Q352.6 73.3 349.3 71.1M402.2 66.2Q406.2 64.8 409.4 67.7M406.2 64.8l1.9 3.0M379.8 87.4Q378.5 92.8 373.9 95.9M378.5 92.8l-3.1 0.8M365.6 75.5Q361.4 72.0 355.9 72.6M361.4 72.0l-1.7 -2.0M397.1 79.9Q402.2 80.2 405.9 83.7M402.2 80.2l2.5 -0.6M366.0 59.0Q361.1 56.7 356.0 58.4M361.2 66.5Q356.5 69.3 351.1 70.3M356.5 69.3l-2.6 3.6M363.5 62.4Q359.0 60.9 357.3 56.5" stroke="#28dcc8" stroke-width="1.15"/><path d="M389.9 87.0Q392.2 89.8 395.2 91.9M392.2 89.8l1.1 4.0M356.9 62.4Q356.7 66.7 352.6 68.1M409.0 67.3Q411.3 69.4 414.4 69.3M411.3 69.4l2.4 3.3M408.8 69.9Q412.2 69.9 415.6 70.0M360.4 76.5Q359.7 79.7 356.8 81.1M397.1 60.7Q400.6 63.9 405.3 65.0M400.6 63.9l2.5 -0.1M363.4 60.1Q358.2 59.9 354.0 62.8M358.1 54.0Q354.2 56.9 349.3 57.3M354.2 56.9l-1.8 2.4M365.8 81.0Q364.5 85.5 362.8 89.9M364.5 85.5l1.3 2.2M395.4 83.7Q399.5 84.7 403.7 84.0M399.5 84.7l3.0 2.7M376.0 81.5Q375.2 86.8 371.1 90.1" stroke="#28c8b4" stroke-width="1.15"/><path d="M360.5 68.9Q358.8 71.3 357.1 73.7M358.8 71.3l-3.3 0.5M365.1 70.8Q362.8 73.4 360.4 75.9M362.8 73.4l-4.5 -0.2M392.9 54.7Q397.5 52.7 401.5 49.8M361.8 64.1Q360.0 60.5 356.6 58.2M390.8 54.9Q395.6 56.4 399.2 53.0M395.6 56.4l2.3 1.2" stroke="#28dca0" stroke-width="1.15"/><path d="M371.6 50.6Q367.6 52.3 363.3 51.5M388.0 74.2Q390.0 79.2 391.9 84.2M390.0 79.2l4.2 1.5M396.0 56.6Q395.3 51.6 395.2 46.5M366.1 79.8Q361.5 79.8 357.1 78.4M361.5 79.8l-2.2 -2.8M379.2 86.4Q377.1 88.7 374.1 89.5M402.0 66.6Q406.1 69.7 409.6 73.5M366.6 88.0Q366.0 91.9 369.3 93.9M366.0 91.9l-1.4 4.3M394.9 75.1Q399.7 74.3 404.1 76.6M399.7 74.3l2.1 3.3M392.8 61.3Q396.4 65.4 401.8 66.6M397.0 57.5Q397.3 52.8 399.6 48.6M383.7 81.4Q382.8 86.4 384.3 91.2" stroke="#28dcb4" stroke-width="1.15"/><path d="M362.6 83.9Q360.4 86.8 362.4 89.8M360.4 86.8l1.6 2.0M403.9 51.7Q405.8 47.1 410.5 45.6M405.8 47.1l0.4 -3.8M357.3 68.5Q351.5 69.3 345.7 69.9M351.5 69.3l-2.1 -1.1M389.7 85.1Q394.9 84.6 399.8 86.3M394.9 84.6l2.0 1.8M407.2 62.1Q412.0 62.2 416.5 60.6" stroke="#3cf0dc" stroke-width="1.15"/><path d="M371.8 86.8Q366.5 89.3 360.7 90.2M363.7 81.0Q363.2 86.8 365.7 92.0M363.2 86.8l2.4 2.7M407.0 65.0Q409.7 67.2 412.5 69.2" stroke="#3cdcdc" stroke-width="1.15"/><path d="M402.0 59.6Q407.1 59.3 411.9 61.3M407.1 59.3l1.9 3.4" stroke="#50f0dc" stroke-width="1.15"/><path d="M367.3 68.6Q361.8 67.3 357.0 70.2M391.9 69.5Q393.6 74.3 398.6 75.6M394.3 76.2Q395.5 78.8 397.3 81.0M370.2 61.9Q367.8 65.3 364.5 67.8M386.4 78.8Q391.6 79.0 396.8 78.7M391.6 79.0l3.0 -2.2M369.4 72.4Q365.9 72.2 364.1 75.3M384.0 71.8Q389.6 72.9 393.4 77.2M389.6 72.9l4.1 -0.7M394.4 73.0Q395.9 76.7 394.1 80.3M385.2 82.3Q383.8 85.5 381.7 88.3" stroke="#148c64" stroke-width="1.15"/><path d="M382.2 83.7Q386.5 86.5 389.5 90.6M363.0 58.4Q358.7 57.7 354.3 58.1M401.0 80.2Q405.1 80.8 406.9 84.5M400.6 55.6Q406.4 56.4 412.2 56.8M361.3 70.0Q362.1 75.7 359.4 80.8M354.2 64.3Q349.7 65.8 346.1 62.7M349.7 65.8l-2.0 1.2" stroke="#3cdcc8" stroke-width="1.15"/><path d="M356.9 65.7Q351.2 65.7 345.7 66.8M360.7 61.0Q355.5 62.7 350.0 62.6M404.6 55.1Q407.9 57.0 410.9 59.5M363.3 63.4Q362.8 58.9 358.7 56.9M398.5 57.0Q401.2 54.0 404.8 52.2M401.2 54.0l2.9 0.0M398.4 57.9Q403.5 55.1 409.3 55.7M403.5 55.1l2.6 2.1M373.8 78.3Q370.4 81.7 367.3 85.3M370.4 81.7l0.0 4.3M409.9 67.4Q412.8 66.8 415.7 66.2M379.2 89.0Q378.3 92.5 379.7 95.9M409.2 67.7Q410.4 70.8 413.5 71.8M400.8 68.5Q405.1 70.0 409.7 70.6M405.1 70.0l4.5 -1.4M372.3 79.4Q369.0 78.9 366.5 81.0M369.0 78.9l-2.4 2.3M368.6 81.1Q368.7 84.9 371.5 87.4M368.7 84.9l-1.0 2.7M360.4 72.1Q354.3 71.7 349.9 67.4M373.7 84.5Q374.4 88.0 377.0 90.4M407.5 55.8Q410.7 54.4 410.4 50.9M405.4 66.1Q410.0 67.4 414.2 69.7M410.0 67.4l3.9 -2.1M361.1 69.6Q359.4 73.3 355.3 73.1M370.8 75.6Q367.7 77.9 367.6 81.8M385.8 79.6Q385.0 84.5 388.2 88.4M385.0 84.5l-1.1 2.1" stroke="#28b4a0" stroke-width="1.15"/><path d="M354.1 41.2Q352.5 34.0 350.9 26.7M352.5 34.0l-3.7 -2.5M365.1 42.7Q361.6 37.9 359.3 32.4M361.6 37.9l-3.4 -1.6" stroke="#64b4f0" stroke-width="1.15"/><path d="M389.9 58.5Q389.2 53.3 390.2 48.2M367.2 76.4Q364.8 80.7 365.9 85.5M364.8 80.7l1.8 2.2M388.4 80.3Q393.8 81.4 399.3 82.1M395.2 59.3Q397.3 64.1 402.4 65.3M363.0 77.8Q359.3 76.1 355.3 75.2M359.3 76.1l-1.6 -2.5M373.5 62.5Q370.0 59.0 370.5 54.0M370.0 59.0l0.6 -3.8M364.5 72.8Q360.0 74.1 355.8 71.8M360.0 74.1l-2.6 -2.3" stroke="#14a078" stroke-width="1.15"/><path d="M385.6 62.5Q389.5 60.8 393.8 61.1M380.3 76.4Q383.0 79.7 387.2 80.2M386.2 69.6Q382.8 73.5 381.2 78.3M377.8 71.3Q375.1 65.9 370.1 62.4M367.4 67.0Q363.6 68.3 361.2 65.0M363.6 68.3l-2.1 1.2M381.7 58.3Q378.0 55.1 374.0 52.4M372.1 66.4Q368.9 64.4 365.6 66.4" stroke="#148c50" stroke-width="1.15"/><path d="M411.1 56.4Q415.2 59.8 419.8 62.6M415.2 59.8l0.8 2.8M410.1 70.6Q413.5 67.6 418.0 68.7M415.2 50.2Q417.9 51.6 420.5 53.2M380.2 60.9Q375.5 57.2 372.8 51.8M375.5 57.2l-0.2 -2.8M381.7 62.6Q378.9 57.7 378.1 52.0M378.9 57.7l0.8 -2.8M384.4 51.5Q388.2 49.8 390.5 46.3M388.2 49.8l2.4 -0.3M392.5 52.1Q394.5 47.5 398.3 44.0M394.5 47.5l3.2 -0.3M394.3 50.4Q397.8 46.0 402.5 42.9M417.8 61.5Q422.4 59.1 427.5 57.8M422.4 59.1l2.7 1.0M405.5 78.9Q409.8 80.7 414.5 81.0M375.8 85.4Q371.0 89.9 365.7 93.7M371.0 89.9l-2.9 0.1M366.6 83.1Q363.8 88.9 359.3 93.4M363.8 88.9l-3.4 0.7M351.4 59.9Q347.6 60.7 344.6 63.1M347.6 60.7l-3.6 -0.5M358.4 59.1Q353.4 57.3 349.4 53.8M353.4 57.3l-1.3 -3.0" stroke="#50c8dc" stroke-width="1.15"/><path d="M376.6 62.1Q374.6 57.5 371.6 53.4M374.6 57.5l1.1 -4.3M388.8 61.2Q388.7 67.3 387.6 73.2" stroke="#28c864" stroke-width="1.15"/><path d="M370.9 57.1Q366.8 56.4 362.9 58.1M379.8 55.8Q385.3 53.3 388.7 48.3M385.3 53.3l2.4 0.4M377.5 71.7Q375.3 73.8 373.4 76.1M380.6 80.5Q384.1 83.5 387.9 85.9M384.1 83.5l2.6 -0.1M388.9 72.1Q390.5 77.0 387.3 81.1M392.1 67.3Q396.6 66.0 400.3 68.8M396.6 66.0l3.0 -2.1" stroke="#28b478" stroke-width="1.15"/><path d="M375.0 59.2Q378.7 61.2 381.7 64.1" stroke="#148c28" stroke-width="1.15"/><path d="M381.4 78.3Q376.8 81.1 372.3 83.7M363.3 69.3Q360.3 65.7 355.7 64.8M360.3 65.7l-4.0 0.1M364.6 80.5Q360.4 81.1 358.7 85.0M369.7 64.3Q364.7 67.3 359.2 65.4M392.3 59.4Q398.7 59.2 403.6 63.4M399.4 71.2Q401.1 74.1 404.2 75.4M370.0 54.4Q367.6 57.4 364.0 55.9M385.9 75.4Q385.9 78.4 387.5 81.1M363.2 57.0Q359.1 55.5 355.0 54.0" stroke="#28b48c" stroke-width="1.15"/><path d="M353.8 37.6Q351.3 32.9 348.6 28.3M351.3 32.9l-2.2 -1.2" stroke="#50a0dc" stroke-width="1.15"/><path d="M353.4 32.0Q353.9 27.1 353.1 22.3" stroke="#78b4f0" stroke-width="1.15"/><path d="M359.7 82.5Q357.5 86.1 357.0 90.3M357.5 86.1l-2.8 1.0M408.9 49.8Q414.7 50.7 419.5 53.8M408.7 47.6Q412.7 49.6 416.1 46.8M412.7 49.6l1.8 -2.3M409.4 58.2Q413.1 55.7 417.5 55.7M413.1 55.7l3.4 1.0M412.5 58.7Q417.5 60.3 422.8 60.6M415.1 67.8Q416.4 70.9 419.6 71.9M416.4 70.9l-0.0 3.9M406.6 71.3Q409.9 74.4 410.3 78.9M409.9 74.4l-0.4 4.5" stroke="#3cb4b4" stroke-width="1.15"/><path d="M377.8 63.3Q381.3 61.5 385.0 62.8" stroke="#288c3c" stroke-width="1.15"/><path d="M375.3 72.8Q378.4 75.7 377.5 79.9M386.3 60.1Q388.9 56.9 389.1 52.7M388.9 56.9l2.8 -2.1M369.0 65.2Q365.5 60.6 366.0 54.9M380.6 67.8Q383.4 71.5 381.5 75.8M391.4 59.5Q394.7 57.1 398.9 56.6M370.8 60.4Q368.2 63.1 364.5 63.4" stroke="#14b464" stroke-width="1.15"/><path d="M385.5 68.9Q391.4 70.0 397.2 68.4M389.2 53.8Q394.4 55.9 399.3 58.5M375.8 52.4Q370.8 49.7 365.3 51.1M393.5 55.2Q396.9 54.3 400.5 54.4M381.1 71.0Q375.4 72.7 369.9 74.8M378.4 72.3Q375.4 74.8 375.1 78.8M375.4 74.8l-2.5 1.7M388.4 65.9Q390.4 61.6 394.0 58.6M367.0 61.0Q364.4 58.6 361.9 56.1M364.4 58.6l-0.5 -4.6M367.2 65.4Q363.6 69.0 358.5 68.8M363.6 69.0l-2.5 -0.8" stroke="#28c88c" stroke-width="1.15"/><path d="M372.9 84.1Q370.2 86.3 369.6 89.8M386.7 89.5Q390.0 91.5 393.7 92.2M390.0 91.5l1.5 3.6" stroke="#3cf0c8" stroke-width="1.15"/><path d="M401.1 71.6Q404.7 75.4 406.2 80.3M378.7 86.7Q376.6 90.9 374.2 94.9M357.3 68.3Q352.3 64.5 346.1 64.8M352.3 64.5l-1.4 -2.8M388.7 87.9Q392.5 90.5 397.1 91.2M392.5 90.5l1.7 3.4M403.2 62.2Q407.0 59.5 411.4 60.9" stroke="#3cc8b4" stroke-width="1.15"/><path d="M348.2 45.8Q348.0 38.2 347.3 30.6M353.8 45.9Q351.4 40.2 350.1 34.2M351.4 40.2l1.0 -2.6" stroke="#50a0f0" stroke-width="1.15"/><path d="M381.9 62.4Q379.2 65.2 376.1 67.4M383.7 59.3Q383.2 65.0 383.1 70.7" stroke="#147828" stroke-width="1.15"/><path d="M362.0 56.7Q360.6 51.7 358.2 47.1" stroke="#2878b4" stroke-width="1.15"/><path d="M352.6 44.8Q352.5 40.4 352.3 35.9M353.2 48.0Q352.4 43.7 351.0 39.6" stroke="#2864b4" stroke-width="1.15"/><path d="M362.5 52.3Q361.0 48.7 360.7 44.8M356.9 58.7Q354.4 52.7 350.8 47.3" stroke="#1464a0" stroke-width="1.15"/><path d="M369.7 56.2Q366.3 50.7 363.2 45.0M366.3 50.7l0.3 -4.1" stroke="#288cc8" stroke-width="1.15"/><path d="M398.4 78.6Q400.8 80.8 400.2 84.1M400.8 80.8l2.2 0.8M406.8 80.1Q407.4 83.1 407.4 86.1M400.6 51.9Q405.5 55.3 411.3 56.9M405.5 55.3l2.6 3.6M401.3 61.7Q404.0 56.3 409.6 54.4M416.0 60.6Q417.2 57.2 420.7 56.4M369.2 87.5Q366.8 90.0 364.1 92.3M366.8 90.0l-0.4 3.1M405.9 77.8Q409.8 79.7 413.3 77.0M409.8 79.7l2.5 -2.1" stroke="#28a0a0" stroke-width="1.15"/><path d="M388.0 62.3Q388.2 57.4 386.7 52.6M373.3 59.4Q371.3 64.3 366.3 66.2M388.0 62.3Q384.8 67.7 385.6 73.9M384.8 67.7l-3.3 2.3M369.4 71.2Q368.5 74.6 365.1 75.4M368.5 74.6l-3.6 0.9M375.2 72.4Q380.1 75.9 385.6 77.9M380.1 75.9l3.2 -1.1M368.8 67.3Q366.6 64.8 364.7 62.1M387.2 61.6Q390.7 66.9 390.5 73.1M369.3 55.5Q365.7 55.7 364.6 52.3M365.7 55.7l-4.4 -0.1M377.6 72.8Q376.0 75.3 374.1 77.7M380.1 73.6Q384.8 75.3 388.1 79.0M384.8 75.3l1.3 3.8M384.3 67.1Q378.4 65.5 372.2 65.6" stroke="#14a064" stroke-width="1.15"/><path d="M388.7 62.1Q393.5 60.8 398.1 62.6M368.0 74.3Q367.2 78.1 363.4 79.3M364.5 68.4Q360.0 68.7 355.6 70.2M360.0 68.7l-1.7 2.6M367.1 73.8Q363.2 74.1 360.6 77.1M364.9 61.7Q362.0 60.4 360.7 57.4M377.0 86.0Q373.5 87.5 371.9 91.0M388.2 52.6Q391.7 53.7 393.5 50.4M395.4 74.7Q394.8 78.8 396.1 82.8M392.6 49.4Q397.3 47.4 402.2 48.6M382.8 78.4Q383.3 82.1 387.0 82.3M362.3 60.0Q358.6 60.0 357.6 56.5M399.9 65.9Q402.7 68.9 405.3 72.1M402.7 68.9l2.8 0.8M397.1 71.5Q401.0 68.5 405.5 66.3M401.0 68.5l0.5 -3.4M365.8 50.9Q363.5 53.9 360.0 52.6" stroke="#28c8a0" stroke-width="1.15"/><path d="M417.1 58.4Q420.0 55.8 423.8 54.9M420.0 55.8l2.9 0.8M405.9 77.1Q411.3 75.1 417.1 74.3M410.0 47.3Q414.4 47.7 418.8 47.4M414.4 47.7l2.4 2.7M413.3 60.9Q416.4 59.0 419.0 61.5M409.5 50.6Q412.9 48.5 414.8 44.9M412.9 48.5l3.4 -0.3" stroke="#3cb4c8" stroke-width="1.15"/><path d="M352.1 49.3Q351.1 43.0 351.0 36.6" stroke="#3c78c8" stroke-width="1.15"/><path d="M377.8 72.8Q373.8 75.7 373.6 80.6M373.8 75.7l0.7 3.5M371.6 60.8Q366.7 60.3 363.4 56.7M372.9 63.5Q367.4 63.3 363.0 59.9M378.6 76.0Q384.0 78.5 389.7 79.7M384.0 78.5l1.3 3.4M381.9 58.2Q384.7 53.9 389.9 53.7M364.5 65.6Q361.5 66.8 358.9 68.7M365.9 69.3Q361.4 67.7 358.4 64.0" stroke="#28c878" stroke-width="1.15"/><path d="M354.4 37.6Q353.4 32.5 351.3 27.8" stroke="#3c8cc8" stroke-width="1.15"/><path d="M410.8 66.8Q414.7 66.8 417.3 69.8M414.7 66.8l1.6 3.2M383.6 88.0Q379.9 92.6 379.1 98.5" stroke="#50dcdc" stroke-width="1.15"/><path d="M364.7 55.7Q362.7 50.1 359.5 45.0M358.5 46.9Q358.7 43.0 357.8 39.2M355.8 52.3Q354.2 47.8 352.2 43.5M354.2 47.8l1.8 -3.9M362.7 45.2Q360.3 39.6 357.4 34.2M360.3 39.6l1.0 -3.9M366.0 51.9Q364.6 48.1 362.8 44.4M364.6 48.1l1.3 -4.3M355.1 57.4Q354.1 51.6 353.4 45.9M354.1 51.6l-2.7 -2.8M356.3 39.1Q356.1 35.2 355.0 31.5M356.1 35.2l1.8 -2.0M367.4 58.2Q366.9 52.9 366.8 47.7M366.9 52.9l-2.1 -2.6" stroke="#2878c8" stroke-width="1.15"/><path d="M385.1 56.6Q382.2 61.5 379.7 66.6M376.9 65.2Q379.9 66.7 380.0 70.1M380.8 56.2Q379.7 61.2 377.5 65.9M379.7 61.2l1.3 3.1M385.7 65.6Q387.5 63.2 389.5 61.0" stroke="#148c3c" stroke-width="1.15"/><path d="M380.8 58.3Q376.0 55.7 370.6 54.7M383.1 67.9Q380.9 64.2 376.6 64.3M379.6 58.4Q380.2 64.3 382.5 69.8M374.5 59.9Q371.9 62.1 370.0 64.9M371.9 62.1l-3.5 -0.2M376.8 63.3Q377.0 59.0 374.6 55.6" stroke="#14783c" stroke-width="1.15"/><path d="M354.1 52.7Q350.9 48.0 348.8 42.8M367.9 52.0Q364.6 47.2 362.4 41.7" stroke="#28a0dc" stroke-width="1.15"/><path d="M357.6 42.5Q356.1 36.8 353.6 31.5M349.8 47.7Q347.8 44.3 346.1 40.6M347.8 44.3l-2.6 -1.2" stroke="#3c8cf0" stroke-width="1.15"/><path d="M407.8 78.0Q412.6 76.4 417.0 73.8M412.6 76.4l3.4 0.6M409.0 74.2Q411.3 77.7 412.9 81.6M411.3 77.7l-0.5 2.5M412.3 66.4Q417.8 63.3 421.1 58.0" stroke="#50c8c8" stroke-width="1.15"/><path d="M380.1 62.2Q381.0 66.9 380.9 71.6M374.6 70.0Q377.4 73.4 376.0 77.6M393.9 63.0Q396.6 60.2 396.4 56.4M371.6 63.9Q368.8 66.1 368.7 69.7M368.8 66.1l0.4 2.7M382.8 58.4Q376.6 59.6 372.0 63.8M376.6 59.6l-1.9 3.6M373.3 67.4Q376.6 70.8 375.9 75.6M383.9 63.0Q388.5 62.0 393.0 60.5M388.5 62.0l1.6 -2.5" stroke="#28b464" stroke-width="1.15"/><path d="M374.9 74.1Q370.1 77.2 368.1 82.6M370.1 77.2l-3.6 0.2M368.8 76.8Q367.7 79.8 365.8 82.4M367.7 79.8l-3.0 1.1M368.3 61.5Q365.6 56.1 359.9 54.3M365.6 56.1l-0.0 -2.8M402.7 66.3Q404.9 70.3 406.3 74.6M404.9 70.3l-1.3 3.3M372.0 80.2Q368.8 84.8 365.6 89.4M405.2 74.0Q408.7 74.1 410.6 71.1M408.7 74.1l0.7 -2.8" stroke="#14a08c" stroke-width="1.15"/><path d="M364.9 62.5Q362.9 56.0 360.8 49.5M363.7 56.2Q362.2 51.9 361.4 47.4M362.2 51.9l0.8 -2.9M360.0 64.0Q359.6 56.7 358.9 49.4M359.6 56.7l-3.0 -3.0" stroke="#28a0c8" stroke-width="1.15"/><path d="M415.3 57.5Q419.5 56.5 422.7 53.4M401.4 42.8Q406.0 43.6 410.7 43.2M406.0 43.6l2.0 -2.3M401.3 82.3Q406.4 84.2 411.8 85.2M406.4 84.2l2.4 -0.6M367.9 86.2Q368.8 91.5 367.9 96.7M368.8 91.5l-2.6 2.7M363.6 75.9Q358.1 77.8 353.3 81.0M386.4 48.7Q385.0 40.6 387.2 32.5M386.9 38.2l-2.2 -4.3M386.6 41.6l2.2 -4.6M394.8 47.0Q396.3 38.1 394.5 29.1M402.6 43.6Q403.1 37.2 404.5 30.8M403.8 35.3l-2.5 -2.1M408.2 43.6Q410.7 40.6 409.4 37.6M409.0 39.7l-3.0 -2.6M409.4 40.0l3.0 -3.4M377.0 52.1Q376.5 47.9 373.5 43.6M374.7 46.6l-2.9 -3.2M375.1 50.2l1.9 -2.2" stroke="#50dcf0" stroke-width="1.15"/><path d="M386.1 63.4Q381.1 61.8 378.5 57.1M381.1 61.8l-3.0 -0.3" stroke="#28b450" stroke-width="1.15"/><path d="M411.3 62.2Q415.2 64.1 418.9 66.6M413.6 61.3Q418.3 62.0 423.1 62.4M418.3 62.0l3.1 3.3" stroke="#64f0ff" stroke-width="1.15"/><path d="M352.9 42.9Q352.1 38.7 350.0 34.8" stroke="#288cf0" stroke-width="1.15"/><path d="M351.4 40.0Q350.0 34.4 349.2 28.6" stroke="#3c78dc" stroke-width="1.15"/><path d="M358.4 55.1Q354.8 53.4 351.2 55.0M354.8 53.4l-2.9 2.7M362.2 71.7Q358.0 70.9 354.2 68.8M391.2 85.0Q387.8 90.2 389.0 96.4M400.9 59.9Q403.9 63.1 406.7 66.4M354.9 66.4Q350.5 67.7 348.4 71.6M404.8 56.7Q408.7 55.3 408.7 51.2" stroke="#28a08c" stroke-width="1.15"/><path d="M350.7 43.3Q348.9 38.6 348.4 33.6M367.5 48.9Q365.0 45.7 363.6 42.0" stroke="#2878dc" stroke-width="1.15"/><path d="M353.8 37.2Q351.5 31.6 349.4 26.0" stroke="#508cdc" stroke-width="1.15"/><path d="M355.1 32.3Q354.0 26.4 352.5 20.6M352.8 30.3Q351.9 26.3 352.2 22.3M351.9 26.3l1.7 -2.7" stroke="#78c8ff" stroke-width="1.15"/><path d="M357.0 61.6Q353.9 55.9 351.2 49.9M357.7 57.2Q356.2 50.2 355.1 43.1M356.2 50.2l-3.2 -3.2" stroke="#2878a0" stroke-width="1.15"/><path d="M349.5 44.0Q347.7 40.5 347.1 36.7M347.7 40.5l-3.0 -1.1M362.2 51.9Q358.1 45.6 354.6 39.0M358.1 45.6l1.1 -3.1" stroke="#1464b4" stroke-width="1.15"/><path d="M412.5 60.7Q415.4 57.0 418.7 53.7M415.4 57.0l4.6 -0.1" stroke="#28b4b4" stroke-width="1.15"/><path d="M358.3 46.8Q356.7 41.6 355.0 36.4M356.7 41.6l-3.5 -1.4" stroke="#288cff" stroke-width="1.15"/><path d="M354.4 33.4Q353.3 29.9 352.7 26.2" stroke="#64b4ff" stroke-width="1.15"/><path d="M408.8 75.6Q411.0 73.8 413.7 72.7" stroke="#3ca0a0" stroke-width="1.15"/><path d="M362.3 57.7Q360.3 52.5 359.3 46.9" stroke="#288cb4" stroke-width="1.15"/><path d="M361.0 50.7Q360.2 47.0 359.1 43.5" stroke="#1478a0" stroke-width="1.15"/><path d="M384.2 75.4Q382.8 80.7 382.4 86.2M382.8 80.7l-2.5 2.8" stroke="#28dc8c" stroke-width="1.15"/><path d="M371.0 61.8Q368.0 55.7 365.7 49.2" stroke="#28b4c8" stroke-width="1.15"/><path d="M354.6 33.0Q354.7 26.5 353.0 20.2M348.0 31.2Q347.7 26.9 347.8 22.6M347.7 26.9l-2.3 -2.5" stroke="#8cdcf0" stroke-width="1.15"/><path d="M360.8 34.4Q356.8 29.3 354.9 23.1M356.8 29.3l0.8 -2.6" stroke="#8cc8f0" stroke-width="1.15"/><path d="M361.5 38.7Q360.4 32.5 357.1 27.1" stroke="#64b4dc" stroke-width="1.15"/><path d="M362.1 46.7Q362.7 42.0 361.1 37.5M362.7 42.0l-2.0 -1.8" stroke="#508cf0" stroke-width="1.15"/><path d="M384.4 58.9Q383.1 54.1 383.2 49.1M399.5 46.3Q402.4 43.0 406.5 41.5M402.4 43.0l2.6 0.1M416.8 49.6Q421.7 50.3 426.6 50.6M421.7 50.3l2.1 2.4M393.9 84.6Q398.6 85.6 402.1 88.9M398.6 85.6l3.3 -1.4M393.5 82.8Q393.1 88.6 394.7 94.1M384.4 90.2Q384.1 94.7 385.2 99.1M351.0 63.1Q346.7 62.8 342.9 64.8" stroke="#64dcf0" stroke-width="1.15"/><path d="M404.4 52.5Q407.8 47.1 411.2 41.7M407.8 47.1l3.0 -1.4M408.7 49.0Q414.9 47.3 421.3 46.3M417.5 54.7Q421.6 52.7 424.3 49.0M421.6 52.7l4.1 -0.5M415.3 66.0Q419.9 63.0 424.9 60.8M414.1 64.1Q417.7 66.0 421.9 66.0M417.7 66.0l2.0 3.0M413.2 69.1Q416.2 72.1 419.8 74.3M416.2 72.1l3.8 0.2M410.2 75.4Q413.6 78.3 417.6 80.5M392.3 82.1Q395.3 87.7 399.5 92.5M395.3 87.7l-0.4 2.7M384.0 88.7Q386.3 94.1 388.9 99.4M386.3 94.1l2.1 1.3M378.1 90.8Q381.5 96.1 383.4 102.1M372.2 86.1Q371.9 91.6 372.2 97.1M371.9 91.6l-2.2 2.1M362.5 79.9Q358.5 84.2 355.8 89.4M361.7 70.8Q356.0 73.8 350.6 77.5M356.0 73.8l-2.7 -0.6M359.8 73.9Q354.2 74.4 348.8 75.7M354.2 74.4l-2.4 2.0M353.4 63.0Q348.3 66.1 343.1 69.0M354.4 62.2Q350.3 60.2 346.9 57.2" stroke="#64f0f0" stroke-width="1.15"/><path d="M349.7 54.8Q349.4 49.3 347.1 44.2M349.4 49.3l-3.5 -2.0" stroke="#2878f0" stroke-width="1.15"/><path d="M349.1 41.7Q346.9 37.3 346.3 32.3M346.9 37.3l1.8 -3.7" stroke="#64a0dc" stroke-width="1.15"/><path d="M346.9 40.5Q345.1 34.0 346.3 27.4" stroke="#78c8f0" stroke-width="1.15"/><path d="M351.4 31.1Q349.7 25.2 348.9 19.1M349.7 25.2l-2.1 -2.3" stroke="#78b4dc" stroke-width="1.15"/></g>
<g filter="url(#bl)" fill="none" stroke-linecap="round"><polygon points="452.3,31.2 456.3,37.4 459.7,46.1 463.7,54.2 468.2,56.6 473.9,55.4 478.4,52.9 484.1,51.7 489.7,49.2 494.3,49.2 498.8,51.7 504.5,54.8 506.2,58.5 502.2,65.9 499.9,74.6 492.0,82.1 484.1,85.8 475.0,92.0 467.1,88.3 455.7,85.8 454.6,77.1 446.7,68.4 451.2,58.5 449.5,49.8 448.9,41.1 450.6,34.9" fill="#26b85a" opacity="0.7" filter="url(#bl2)"/><path d="M484.5 69.4Q485.1 75.4 487.9 80.6M453.6 59.6Q450.7 59.6 447.8 60.0M450.7 59.6l-2.0 2.6M477.5 84.5Q479.4 87.6 483.0 87.5M480.3 77.8Q478.8 81.3 478.4 85.2M478.8 81.3l1.5 2.9M486.7 70.8Q489.7 72.6 491.8 75.6M489.7 72.6l-0.3 3.7" stroke="#28a050" stroke-width="1.15"/><path d="M475.8 70.6Q477.9 67.6 481.4 66.4M477.9 67.6l1.4 -3.5M466.4 70.8Q472.6 72.2 476.2 77.5M472.6 72.2l1.2 3.5M460.1 62.1Q455.7 60.8 451.4 59.5M455.7 60.8l-2.7 1.6M466.6 65.0Q462.8 63.5 460.3 60.2M462.8 63.5l-3.8 0.8M477.5 60.4Q482.4 60.4 486.7 58.1M482.4 60.4l3.5 1.9M478.1 66.6Q475.7 69.9 473.6 73.3M466.1 69.3Q468.2 73.5 469.8 77.9M468.2 73.5l2.2 1.6M488.2 65.1Q490.3 68.4 491.4 72.2M490.3 68.4l3.6 2.5M472.5 67.8Q476.2 71.7 481.2 73.7M476.2 71.7l0.3 4.2M477.8 61.9Q474.9 67.1 471.3 71.9M474.9 67.1l-2.2 0.6M477.4 68.6Q476.7 72.2 480.0 73.9M462.8 64.7Q459.2 62.7 455.3 64.1M459.2 62.7l-3.6 1.7M474.5 62.7Q472.1 66.8 468.1 69.1M475.5 59.0Q471.9 64.0 471.5 70.1" stroke="#28dc50" stroke-width="1.15"/><path d="M454.8 38.9Q452.6 34.5 450.2 30.3M452.6 34.5l0.6 -3.0" stroke="#50a0c8" stroke-width="1.15"/><path d="M464.4 81.8Q458.5 82.6 452.7 81.8M488.4 50.5Q491.7 50.9 495.0 50.4M491.7 50.9l3.7 -2.8M466.3 81.9Q463.2 83.0 460.1 83.9M463.2 83.0l-2.0 3.0M472.8 80.5Q472.2 85.2 472.3 89.9M472.2 85.2l1.4 2.4M484.3 53.3Q487.5 51.7 489.8 54.3M487.5 51.7l1.9 3.5M456.3 77.2Q455.3 81.5 456.0 85.8M485.8 83.6Q483.6 87.2 484.4 91.4M483.6 87.2l1.8 4.1M452.2 61.7Q450.6 59.0 447.5 58.6M494.4 65.9Q500.1 66.3 505.6 68.1M490.3 74.9Q491.8 77.6 494.8 78.7M452.8 66.2Q448.0 65.5 445.5 61.4M448.0 65.5l-1.0 -2.9M477.4 80.9Q477.1 85.3 478.3 89.4M477.1 85.3l1.8 2.5M461.3 61.0Q461.0 66.7 456.4 69.9M461.0 66.7l-4.1 1.3M473.0 88.8Q476.4 91.5 477.5 95.7M478.5 89.3Q474.7 90.7 474.9 94.7M474.7 90.7l-2.3 0.2M474.7 81.1Q475.2 85.1 473.1 88.6M475.2 85.1l-2.8 3.0M490.0 54.8Q489.6 50.3 493.5 48.2M473.8 78.4Q471.1 83.6 467.2 87.9M460.5 53.6Q455.0 53.8 449.4 54.1M463.5 79.4Q466.0 82.2 465.4 85.9M466.0 82.2l2.4 1.4M487.4 54.2Q491.9 55.3 495.5 58.4M486.9 70.9Q489.9 69.5 493.0 70.5M495.6 59.8Q498.6 55.8 498.4 50.8M498.6 55.8l-1.4 -4.4M450.2 59.5Q447.4 57.5 445.7 54.5M465.6 66.5Q460.6 69.2 455.7 72.3M460.6 69.2l-3.1 -1.1" stroke="#28c864" stroke-width="1.15"/><path d="M447.3 61.4Q445.4 54.1 444.0 46.8M445.4 54.1l-3.3 -1.9M448.8 53.1Q447.6 45.6 447.7 38.0" stroke="#28a0a0" stroke-width="1.15"/><path d="M488.7 51.2Q490.9 46.1 496.0 44.1M490.9 46.1l3.4 0.2M495.8 57.3Q500.7 59.7 506.0 58.2M500.7 59.7l2.6 -2.1M478.0 89.3Q477.8 93.3 477.0 97.1M499.9 77.4Q500.6 80.8 504.1 81.3M500.6 80.8l3.9 -0.1M469.1 90.2Q473.1 93.3 475.4 97.8M473.1 93.3l3.6 0.3M487.7 73.0Q492.0 76.9 497.8 77.2M451.9 75.3Q448.5 76.4 447.3 79.7M448.5 76.4l-0.3 2.5M465.6 86.8Q462.9 90.2 461.4 94.3M485.5 89.8Q482.4 93.0 481.5 97.4M471.4 91.6Q468.7 94.3 470.5 97.8M452.4 70.9Q450.3 76.0 449.2 81.4M496.9 80.0Q498.7 83.3 502.3 84.4" stroke="#3cf08c" stroke-width="1.15"/><path d="M470.0 81.4Q472.0 86.7 477.2 88.8M472.0 86.7l0.3 2.4M480.7 82.1Q477.1 84.3 476.5 88.5M477.1 84.3l-2.3 0.4M491.6 66.9Q495.5 68.0 499.3 66.5M486.9 53.3Q489.7 53.8 492.6 53.9M489.7 53.8l1.7 2.6M477.7 82.2Q482.7 81.5 487.3 83.3M485.8 81.6Q490.4 83.0 495.2 82.4M490.4 83.0l2.6 2.1M488.9 72.7Q492.0 72.0 494.7 73.6M492.0 72.0l3.6 -2.8M479.8 73.6Q483.6 77.5 489.0 78.4M483.6 77.5l2.2 3.9M484.5 66.4Q486.4 71.2 487.8 76.2M486.4 71.2l3.4 3.1" stroke="#28f078" stroke-width="1.15"/><path d="M456.9 69.8Q453.0 66.5 450.5 62.1M477.3 75.5Q474.8 79.0 476.6 83.0M474.8 79.0l-2.0 2.2M472.5 71.4Q477.6 68.4 479.3 62.7M470.3 54.1Q464.8 54.0 459.5 52.6M464.8 54.0l-1.6 -2.6M481.3 63.8Q485.9 60.6 487.8 55.4M485.9 60.6l2.9 -0.3M485.8 55.3Q487.5 51.8 488.1 47.9M487.5 51.8l3.6 -2.1M479.4 62.0Q477.6 67.8 473.3 72.1M477.6 67.8l-0.0 3.0M472.0 76.9Q475.8 79.4 476.4 83.8M483.9 67.4Q488.1 68.7 492.5 69.5M485.7 60.6Q486.7 55.6 487.2 50.6M483.1 70.6Q485.4 72.5 486.9 74.9M485.4 72.5l3.9 0.5M482.0 64.5Q487.4 64.2 490.8 60.0M476.3 58.5Q480.0 58.2 483.0 60.4M480.0 58.2l1.6 2.0M463.6 55.1Q459.9 55.7 458.0 52.5M470.2 69.5Q465.4 68.2 461.8 64.7M468.8 74.0Q466.0 74.7 463.6 76.2M477.6 62.4Q476.2 59.0 475.3 55.4M476.2 59.0l1.8 -3.2M468.6 56.8Q464.3 56.6 460.6 54.5M467.2 63.8Q462.2 62.2 459.5 57.7M462.2 62.2l-4.3 0.3M466.5 78.5Q462.9 79.3 463.2 83.0M462.9 79.3l-3.7 1.3M485.5 60.2Q489.1 60.1 492.0 58.0M489.1 60.1l2.7 0.9M473.0 81.9Q473.6 85.5 471.6 88.6M473.6 85.5l-4.0 2.1M464.7 69.0Q465.4 73.4 462.8 77.0M472.2 70.9Q470.1 73.6 466.8 72.9M470.1 73.6l-1.3 2.0M474.5 70.6Q478.5 72.9 482.7 75.0M466.8 64.8Q470.9 62.7 474.5 59.8M471.8 70.5Q468.6 68.4 465.2 70.2M468.6 68.4l-2.0 1.8M471.3 65.5Q467.7 61.7 465.9 56.8M467.7 61.7l-3.2 -0.8M482.1 80.7Q484.4 83.9 486.2 87.3M484.4 83.9l2.8 0.4M468.4 82.6Q469.3 86.4 472.1 88.9M480.7 58.8Q484.5 57.5 486.8 54.3M476.2 65.6Q477.7 69.0 475.0 71.5M477.7 69.0l-3.7 2.1M475.3 69.4Q470.2 72.9 468.0 78.6M490.5 65.9Q491.6 70.5 495.0 73.5M491.6 70.5l4.0 0.9M478.6 60.9Q481.2 55.2 479.3 49.3M482.7 57.8Q487.1 60.5 491.6 63.1M476.3 71.8Q479.1 75.0 478.6 79.2" stroke="#28c850" stroke-width="1.15"/><path d="M493.1 64.3Q496.8 66.3 500.9 67.0M457.5 62.1Q455.7 57.7 452.3 54.3M475.0 91.6Q475.0 94.7 476.9 97.2M452.7 66.5Q449.1 67.5 446.0 65.5M486.1 84.0Q485.3 87.6 488.7 89.3M468.2 92.6Q471.2 94.0 471.3 97.3M489.2 72.7Q494.3 69.8 499.3 66.5M451.8 65.2Q448.8 64.2 445.6 64.0M448.8 64.2l-2.1 1.4M461.8 77.5Q459.8 81.3 458.0 85.3M459.8 81.3l0.6 4.1M483.7 52.6Q488.6 51.8 493.3 50.2M501.4 61.0Q503.9 62.3 506.1 64.1M503.9 62.3l1.2 2.8" stroke="#28dc78" stroke-width="1.15"/><path d="M468.5 63.9Q470.1 68.6 472.9 72.9M470.1 68.6l2.5 0.7M478.9 64.8Q474.7 66.9 470.3 65.6M474.7 66.9l-2.1 2.3M490.8 60.5Q494.0 58.6 494.8 55.0M474.1 60.2Q474.7 63.7 475.9 67.1M477.3 66.4Q479.9 69.3 481.2 73.0M479.9 69.3l3.1 1.7M471.6 66.7Q470.2 69.9 472.1 73.0M470.2 69.9l1.7 2.5M469.6 63.9Q467.1 60.2 469.3 56.3M467.6 81.3Q467.9 85.4 464.5 87.8M467.9 85.4l0.3 2.7M460.2 70.1Q458.6 76.2 461.2 82.0M475.6 71.4Q476.5 66.5 475.3 61.7" stroke="#14b450" stroke-width="1.15"/><path d="M508.2 59.3Q512.3 58.3 516.4 58.7M512.3 58.3l3.0 1.4" stroke="#50b4a0" stroke-width="1.15"/><path d="M451.8 66.8Q448.7 65.6 445.4 65.8M448.7 65.6l-3.0 1.7M492.2 74.1Q495.5 79.2 494.6 85.2M475.8 93.0Q473.7 97.1 475.9 101.1M482.9 84.0Q485.9 85.5 485.9 88.8M497.1 71.3Q501.4 74.2 501.3 79.3M501.4 74.2l2.9 1.8M501.7 57.4Q503.2 52.8 505.9 48.9M503.2 52.8l-1.4 -4.3M488.9 49.1Q492.5 49.5 496.2 49.2M503.3 77.4Q506.2 76.1 508.8 74.4M506.2 76.1l1.8 -3.0M498.4 65.2Q501.0 69.8 505.3 72.9M501.0 69.8l-0.5 3.3M494.8 77.0Q497.2 80.5 499.5 84.0M497.2 80.5l0.4 4.6M497.1 61.6Q500.6 59.3 502.0 55.5M500.6 59.3l0.4 -2.9" stroke="#28c878" stroke-width="1.15"/><path d="M487.4 85.3Q490.0 86.2 492.8 86.6M500.2 70.3Q503.5 71.9 506.7 70.2M503.5 71.9l2.0 -2.2M458.1 54.1Q453.7 53.5 450.4 56.6M453.7 53.5l-3.1 -2.0M499.2 63.3Q500.7 60.2 503.8 58.8M500.7 60.2l0.1 -3.7M453.6 61.1Q447.9 59.9 443.9 55.7M480.5 85.3Q479.4 89.0 476.8 91.7M479.4 89.0l-3.8 1.6M491.1 61.2Q495.6 56.9 496.7 50.8M495.6 56.9l3.9 -2.3M455.3 54.7Q449.6 55.6 443.8 54.9M449.6 55.6l-1.7 -2.0M457.1 80.2Q453.6 82.9 451.0 86.5M491.3 75.5Q493.7 79.3 497.6 81.6M493.7 79.3l3.2 0.1M455.6 67.2Q453.5 63.9 449.6 63.6M451.6 74.3Q446.8 76.4 442.1 74.2M455.0 62.0Q452.0 59.4 448.3 60.8" stroke="#28b464" stroke-width="1.15"/><path d="M472.0 55.8Q468.0 55.1 464.0 54.2M470.6 64.4Q467.9 62.2 465.5 59.7M467.9 62.2l-3.1 -0.3M468.8 59.6Q463.5 59.3 459.1 62.3M463.5 59.3l-2.8 -1.7M458.5 66.4Q455.7 69.8 454.5 74.1M481.8 67.0Q486.0 71.7 492.3 72.0M486.0 71.7l2.9 -0.9M472.9 58.5Q472.3 63.9 469.3 68.5M472.3 63.9l2.0 3.4M473.5 59.9Q467.9 59.8 462.4 59.6M483.2 61.3Q487.6 62.5 489.9 66.4M479.6 61.7Q484.6 63.5 487.8 67.7M484.6 63.5l0.6 4.1M485.0 61.2Q488.3 64.2 491.6 67.1M476.6 67.6Q472.9 71.4 471.5 76.4M472.9 71.4l0.2 4.5M463.3 66.9Q464.4 70.1 461.7 72.3M470.5 60.2Q467.6 59.3 465.0 57.8M467.6 59.3l-2.5 0.2M470.3 63.1Q475.4 63.0 479.9 60.4M479.5 63.4Q484.0 63.3 487.0 60.0M472.2 61.8Q468.4 66.1 463.9 69.8M480.7 63.2Q483.8 64.3 486.7 66.1M479.0 69.6Q482.0 66.5 486.3 66.2" stroke="#14a03c" stroke-width="1.15"/><path d="M482.3 77.6Q487.4 77.5 491.0 80.9M487.4 77.5l3.6 -1.0M492.8 58.3Q496.1 56.2 499.6 54.7M496.1 56.2l1.2 -4.3M490.2 61.0Q493.9 57.7 498.9 58.3M493.9 57.7l1.0 -2.1M479.6 70.0Q483.9 69.8 487.5 67.6M483.9 69.8l4.1 0.9M472.4 76.8Q474.9 81.2 472.7 85.8M485.5 76.7Q490.3 77.7 495.1 77.4M490.3 77.7l3.1 3.0M486.3 57.0Q489.7 53.8 490.9 49.3M458.8 62.2Q454.6 60.7 451.1 63.3M488.4 68.3Q493.4 67.4 497.0 71.0M493.4 67.4l1.6 2.4M474.3 85.4Q473.5 88.9 472.7 92.4M473.5 88.9l2.1 3.7" stroke="#28dc64" stroke-width="1.15"/><path d="M504.5 63.5Q508.1 64.4 511.7 64.8M458.2 83.9Q454.8 87.7 449.8 88.9M454.8 87.7l-3.2 -0.4M471.3 90.8Q474.4 93.2 475.4 96.9" stroke="#3cf0a0" stroke-width="1.15"/><path d="M452.1 50.4Q449.3 44.3 447.5 37.8M449.2 53.3Q447.9 45.8 445.8 38.5M447.9 45.8l-3.4 -2.8" stroke="#288ca0" stroke-width="1.15"/><path d="M446.1 37.5Q445.6 32.9 444.0 28.5M445.6 32.9l0.8 -2.6M450.4 46.2Q449.0 38.8 446.8 31.7M449.0 38.8l1.3 -3.7M454.6 49.4Q454.6 43.0 454.0 36.6M454.6 43.0l-2.3 -1.9" stroke="#50c8dc" stroke-width="1.15"/><path d="M472.8 59.0Q467.5 60.1 463.2 57.0M465.7 59.4Q460.8 60.2 457.2 56.7M460.8 60.2l-2.4 -3.9M464.0 66.5Q465.1 71.3 462.0 75.2M477.3 66.6Q476.7 72.2 473.3 76.8M468.3 55.4Q474.5 54.8 479.6 51.2" stroke="#28f050" stroke-width="1.15"/><path d="M484.6 62.0Q486.9 66.6 490.7 70.1M486.9 66.6l0.2 2.9M467.1 65.6Q471.8 67.0 476.7 66.2M471.8 67.0l2.1 -1.6M482.4 65.6Q485.9 64.8 489.3 64.1M485.9 64.8l2.6 -3.7M478.4 63.6Q482.1 60.0 481.3 54.9M485.9 64.7Q488.7 69.0 491.0 73.6M488.7 69.0l3.2 1.6M465.1 58.9Q460.9 58.5 459.1 62.4M470.8 55.7Q466.5 53.9 461.9 54.7M466.5 53.9l-3.3 1.5M472.3 70.0Q467.2 67.2 461.6 68.8M487.2 63.6Q491.6 66.5 496.5 64.8M478.3 72.3Q480.5 75.9 484.3 77.9M480.5 75.9l3.4 -0.2M473.8 65.1Q468.8 64.0 464.1 66.0M455.7 67.3Q454.0 70.2 450.7 70.4M454.0 70.2l-3.6 -0.9M478.2 63.1Q482.8 65.8 483.4 71.0M477.3 68.2Q480.4 64.7 484.8 63.1" stroke="#14b43c" stroke-width="1.15"/><path d="M452.5 70.0Q450.1 65.5 445.4 63.7M465.0 74.8Q463.8 79.7 467.3 83.4M463.8 79.7l-1.2 2.9M467.9 80.2Q469.4 83.0 467.9 85.8M469.4 83.0l-3.3 3.0M490.6 68.8Q494.3 73.5 494.3 79.5" stroke="#14a050" stroke-width="1.15"/><path d="M487.4 84.1Q490.3 83.7 493.3 84.0M477.2 52.4Q479.6 49.7 482.9 48.1M483.4 59.1Q480.8 55.5 481.4 51.2M478.4 58.5Q478.8 53.7 483.1 51.4M475.3 76.1Q478.7 78.0 479.4 81.8M479.5 75.1Q477.7 77.7 476.1 80.3M477.7 77.7l0.6 3.4M479.5 54.8Q482.6 52.6 486.4 53.5M482.6 52.6l2.1 -1.8M482.5 61.0Q487.6 61.6 492.5 63.2M458.2 77.5Q457.3 80.5 457.8 83.6M457.3 80.5l-2.2 3.0M454.1 68.8Q450.2 66.2 445.6 65.2M450.2 66.2l-1.3 -3.2" stroke="#28f064" stroke-width="1.15"/><path d="M449.8 43.1Q448.5 39.0 446.8 35.0M446.1 43.0Q444.0 38.9 443.0 34.4" stroke="#3ca0b4" stroke-width="1.15"/><path d="M498.1 63.9Q498.9 57.6 503.7 53.4M470.2 90.8Q466.3 94.1 461.3 95.3M489.4 83.8Q494.0 82.9 497.0 86.5" stroke="#3cc878" stroke-width="1.15"/><path d="M450.7 58.5Q450.9 55.3 448.6 53.2M450.9 55.3l1.5 -4.0M482.3 59.0Q485.1 55.7 489.3 54.9M487.3 55.2Q490.5 54.4 493.2 56.2M481.3 69.7Q486.0 67.1 491.4 67.3M485.3 73.8Q489.6 77.3 494.7 79.8M489.6 77.3l0.7 3.8M465.1 83.2Q465.8 87.8 468.2 91.7M494.9 63.1Q498.3 60.5 500.9 57.1M468.5 75.0Q468.1 78.9 464.5 80.7" stroke="#28b450" stroke-width="1.15"/><path d="M509.1 50.4Q510.7 53.5 514.2 52.9M510.7 53.5l1.0 3.8M449.2 61.0Q446.1 58.5 442.4 57.0M505.3 63.5Q506.8 58.2 511.5 55.2M502.4 71.5Q507.6 71.9 511.2 68.0M507.6 71.9l1.5 -1.8M496.4 75.9Q502.3 75.2 507.4 72.2" stroke="#3cb48c" stroke-width="1.15"/><path d="M500.0 76.4Q502.8 78.4 505.7 80.3" stroke="#50b48c" stroke-width="1.15"/><path d="M458.9 55.3Q457.0 49.3 454.0 43.8M457.0 49.3l-3.4 -1.6M445.2 57.9Q444.0 53.8 442.5 49.8M444.0 53.8l-2.2 -1.4M456.9 51.1Q454.6 46.8 452.2 42.6M454.6 46.8l-3.8 -2.4" stroke="#28c8c8" stroke-width="1.15"/><path d="M488.7 54.8Q494.4 54.9 497.8 59.4M481.2 85.3Q477.4 88.8 475.1 93.3" stroke="#3cff8c" stroke-width="1.15"/><path d="M459.2 60.3Q456.1 53.6 452.6 47.0M456.1 53.6l-2.2 -1.0" stroke="#14a078" stroke-width="1.15"/><path d="M453.5 54.8Q452.3 50.5 450.2 46.6M452.3 50.5l-2.6 -1.4M462.1 55.9Q459.4 48.9 456.1 42.2M459.4 48.9l0.4 -3.8" stroke="#28b4a0" stroke-width="1.15"/><path d="M449.9 61.5Q446.0 59.1 442.9 55.9M505.6 66.7Q507.7 63.0 511.8 61.5M499.7 63.8Q502.2 61.5 505.5 60.5M502.2 61.5l3.1 0.0" stroke="#3cc88c" stroke-width="1.15"/><path d="M458.7 57.6Q458.5 52.9 457.9 48.2M448.1 57.2Q445.3 50.1 441.7 43.4M445.3 50.1l-4.0 -2.0M461.4 56.2Q458.6 50.3 455.6 44.6M458.6 50.3l-4.1 -2.2" stroke="#288c8c" stroke-width="1.15"/><path d="M500.9 51.9Q506.5 50.2 512.3 50.2M506.5 50.2l2.1 -3.2M474.0 59.0Q470.8 55.9 467.8 52.4M470.8 55.9l-3.9 -0.9M482.6 59.3Q482.0 53.5 483.4 47.9M482.0 53.5l2.2 -3.2M481.8 50.4Q486.4 46.4 492.1 44.6M492.9 46.8Q499.2 46.2 505.5 44.9M499.2 46.2l1.7 -2.4M507.6 57.2Q513.5 55.0 519.9 55.4M508.2 65.0Q512.0 65.6 515.7 65.0M512.0 65.6l2.2 2.0M498.4 80.4Q503.0 81.2 507.7 82.0M503.0 81.2l2.1 2.8M497.7 80.5Q500.9 82.9 502.7 86.6M489.9 85.4Q493.8 87.9 498.4 88.8M493.8 87.9l3.2 -0.8M485.3 88.0Q487.5 91.5 489.7 95.1M487.5 91.5l3.6 1.8M478.0 88.4Q477.9 94.6 477.1 100.8M477.9 94.6l-2.5 1.8M460.2 87.6Q454.6 90.5 450.4 95.3M454.2 80.7Q450.7 85.9 449.2 92.1M447.2 72.3Q443.8 74.1 440.0 74.2M443.8 74.1l-3.5 -1.9M453.2 54.2Q447.9 53.7 442.6 53.5M447.9 53.7l-2.7 -1.7" stroke="#64dcc8" stroke-width="1.15"/><path d="M463.7 59.7Q460.0 54.2 457.3 48.1" stroke="#28c8a0" stroke-width="1.15"/><path d="M507.2 59.6Q511.9 56.8 516.1 53.2M507.7 56.1Q509.4 51.8 512.7 48.6" stroke="#78ffdc" stroke-width="1.15"/><path d="M453.9 44.8Q452.0 38.6 450.4 32.4M461.1 50.2Q457.9 44.8 454.8 39.2M457.9 44.8l1.1 -2.9M461.7 54.3Q460.4 48.7 457.2 43.9M460.4 48.7l-2.3 -0.6" stroke="#3cc8dc" stroke-width="1.15"/><path d="M506.6 51.2Q509.5 48.3 513.4 49.5M507.2 53.3Q511.4 57.5 517.3 57.9M511.4 57.5l2.1 3.0" stroke="#64dcb4" stroke-width="1.15"/><path d="M495.6 64.6Q500.3 67.8 505.4 69.8M491.6 76.2Q495.6 76.3 498.2 79.4M495.6 76.3l1.4 2.3M479.1 75.9Q482.8 79.6 484.1 84.7M459.1 79.6Q453.6 80.4 448.2 79.3M493.6 72.7Q497.6 74.7 501.7 76.3M470.3 85.6Q468.4 88.9 464.7 88.3M468.4 88.9l-1.2 3.2" stroke="#3cf078" stroke-width="1.15"/><path d="M442.3 40.7Q442.7 34.0 441.9 27.3M442.7 34.0l1.8 -2.7" stroke="#50b4b4" stroke-width="1.15"/><path d="M456.0 58.5Q450.6 59.4 446.6 55.6" stroke="#28a064" stroke-width="1.15"/><path d="M447.8 36.1Q446.7 29.1 445.7 21.9" stroke="#50a0a0" stroke-width="1.15"/><path d="M450.5 55.9Q449.7 51.0 449.4 46.1" stroke="#3cc8c8" stroke-width="1.15"/><path d="M472.9 94.9Q475.8 96.6 477.5 99.5M475.8 96.6l3.3 -0.3M443.5 69.7Q440.6 68.7 437.6 69.5" stroke="#50f0a0" stroke-width="1.15"/><path d="M482.8 86.2Q484.7 91.9 482.7 97.6M442.9 63.0Q440.3 64.6 438.5 66.9M440.3 64.6l-4.4 0.3M452.6 56.4Q447.1 56.1 443.2 59.9M447.1 56.1l-3.9 -1.2M499.2 60.5Q502.9 61.9 505.6 59.0M502.9 61.9l3.3 1.7M499.8 68.7Q505.1 69.8 509.0 73.6" stroke="#3cdc8c" stroke-width="1.15"/><path d="M495.1 85.6Q498.2 85.0 501.3 85.3M498.2 85.0l2.4 -2.2M504.2 67.2Q508.3 68.5 512.5 69.3M450.9 77.9Q451.1 82.1 447.9 84.9M451.1 82.1l0.7 2.3M491.3 75.9Q497.1 76.0 501.3 80.1" stroke="#3cb478" stroke-width="1.15"/><path d="M452.9 60.9Q451.7 54.6 450.5 48.3" stroke="#28b48c" stroke-width="1.15"/><path d="M504.8 52.6Q508.5 54.2 512.5 54.9M508.5 54.2l2.5 3.1" stroke="#50ffb4" stroke-width="1.15"/><path d="M485.3 82.4Q487.9 86.0 486.8 90.3M487.7 78.2Q489.1 82.8 491.6 87.0M489.1 82.8l-0.6 3.5" stroke="#3cdc78" stroke-width="1.15"/><path d="M459.5 59.9Q458.8 54.3 458.8 48.7M458.8 54.3l1.5 -1.8M459.0 51.8Q457.4 47.9 456.7 43.8" stroke="#28a08c" stroke-width="1.15"/><path d="M451.2 76.3Q449.2 78.5 446.8 80.3" stroke="#3cffa0" stroke-width="1.15"/><path d="M443.1 41.2Q442.4 35.1 440.7 29.3M442.4 35.1l1.3 -2.6M442.2 45.8Q441.8 41.0 441.7 36.2M452.9 39.6Q450.6 34.9 448.0 30.3" stroke="#28a0b4" stroke-width="1.15"/><path d="M500.1 50.6Q505.3 49.9 509.8 47.2M472.3 90.4Q472.5 94.8 474.7 98.7M472.5 94.8l2.3 1.6M473.8 89.1Q476.3 93.7 475.6 98.9" stroke="#50dca0" stroke-width="1.15"/><path d="M449.3 44.6Q447.8 38.2 446.5 31.8" stroke="#3cb4c8" stroke-width="1.15"/><path d="M444.5 54.0Q444.6 50.1 443.6 46.4" stroke="#28c8b4" stroke-width="1.15"/><path d="M446.4 42.3Q446.1 37.5 446.1 32.6M446.1 37.5l1.5 -2.3" stroke="#3ca0c8" stroke-width="1.15"/><path d="M451.5 31.8Q447.9 26.3 444.9 20.4M446.8 30.0Q445.2 24.8 445.4 19.3M445.2 24.8l-1.7 -1.9M452.8 31.3Q449.2 27.3 447.1 22.4M449.2 27.3l-0.1 -3.4" stroke="#8cdcf0" stroke-width="1.15"/><path d="M447.6 39.0Q447.2 33.5 446.5 28.0M447.2 33.5l2.0 -3.5M456.8 40.8Q455.3 36.5 452.3 33.0M441.1 44.3Q440.0 39.2 439.8 33.9" stroke="#64dcf0" stroke-width="1.15"/><path d="M448.7 43.3Q447.0 39.5 446.5 35.4M442.7 52.7Q440.9 49.4 440.7 45.5M440.9 49.4l-2.6 -1.8M442.8 54.1Q440.5 48.7 440.4 42.8" stroke="#28b4c8" stroke-width="1.15"/><path d="M448.3 38.4Q446.6 34.9 444.4 31.7M446.6 34.9l-0.0 -3.4" stroke="#3cc8f0" stroke-width="1.15"/><path d="M454.2 40.5Q452.0 34.7 450.8 28.7M452.0 34.7l-2.6 -2.0" stroke="#78c8dc" stroke-width="1.15"/><path d="M470.0 58.7Q468.5 54.7 464.9 52.5M468.5 54.7l0.2 -2.6M505.2 57.2Q511.3 57.9 517.3 59.5M511.3 57.9l1.7 2.9M501.7 72.1Q508.1 71.0 514.5 70.9M508.1 71.0l2.5 2.2M504.0 75.2Q507.5 77.8 511.4 79.9M507.5 77.8l1.0 2.6M473.1 94.6Q473.2 98.8 470.4 101.9M473.2 98.8l1.3 3.7M473.4 88.5Q470.1 93.2 466.2 97.5M470.1 93.2l-0.3 2.7M458.9 79.5Q453.4 81.1 447.7 81.7M453.4 81.1l-1.5 2.5M447.6 74.0Q443.5 71.5 438.7 71.5M446.8 64.3Q442.8 65.4 438.8 64.8" stroke="#78f0f0" stroke-width="1.15"/><path d="M469.7 58.2Q472.9 54.0 475.9 49.7M472.9 54.0l3.7 -1.1M489.8 55.2Q492.8 49.9 494.6 44.1M491.3 50.9Q496.8 47.6 500.2 42.2M496.8 47.6l2.6 -0.2M502.2 48.3Q506.5 46.7 511.1 46.6M506.5 46.7l1.7 -1.8M502.9 49.5Q508.0 49.3 513.1 49.1M508.0 49.3l2.2 -1.5M500.5 74.3Q505.9 73.7 511.3 74.0M505.9 73.7l2.5 2.5M482.2 86.7Q484.2 92.0 485.2 97.6M484.2 92.0l3.0 1.8M479.8 89.5Q480.9 94.4 483.2 98.8M480.9 94.4l2.3 1.8M465.4 86.9Q464.3 92.2 464.4 97.6M464.3 92.2l-2.3 1.9M460.5 86.1Q459.5 91.8 459.0 97.7M458.7 80.2Q452.7 81.5 446.6 81.3M452.7 81.5l-3.0 -2.5M449.2 67.7Q443.1 68.2 436.9 68.2M451.0 59.6Q446.1 58.0 441.6 55.7" stroke="#78f0dc" stroke-width="1.15"/><path d="M441.9 41.3Q441.5 34.7 439.5 28.5" stroke="#78dcf0" stroke-width="1.15"/><path d="M441.9 31.6Q443.1 27.0 441.5 22.5M444.1 34.5Q443.8 28.9 442.2 23.5M443.8 28.9l-3.3 -2.2" stroke="#a0f0f0" stroke-width="1.15"/><path d="M479.0 49.9Q478.5 41.7 479.7 33.5M479.5 39.2l-3.0 -4.3M479.3 42.8l3.7 -3.9M487.1 48.1Q486.5 39.1 486.8 30.0M486.9 36.4l-3.2 -2.2M486.2 38.9l2.1 -4.3M494.7 44.7Q496.0 38.2 496.6 31.8M495.9 36.3l-3.5 -4.0M496.4 38.7l3.9 -4.8M500.2 44.7Q501.2 41.7 501.3 38.7M500.9 40.8l-2.3 -3.9M501.4 43.0l2.4 -3.1M469.8 53.3Q466.8 49.0 466.4 44.7M467.6 47.7l-3.4 -3.6M467.2 50.7l3.7 -3.9" stroke="#64f0c8" stroke-width="1.15"/></g>
</g><g clip-path="url(#c2)">
<g filter="url(#bl)" fill="none" stroke-linecap="round"><polygon points="556.6,30.0 559.1,36.0 560.2,44.4 562.7,52.2 567.7,54.6 574.0,53.4 578.9,51.0 585.2,49.8 591.4,47.4 596.4,47.4 601.4,49.8 607.6,52.8 609.5,56.4 605.1,63.6 602.6,72.0 593.9,79.2 585.2,82.9 575.2,88.9 566.5,85.3 554.0,82.9 552.8,74.4 544.1,66.0 549.0,56.4 547.9,48.0 549.9,39.6 553.6,33.6" fill="#2cc4b0" opacity="0.7" filter="url(#bl2)"/><path d="M571.7 69.1Q574.7 73.8 575.6 79.3M574.7 73.8l3.0 2.2M567.1 80.7Q570.1 84.9 572.2 89.6M588.4 50.3Q592.3 53.5 597.3 53.0M592.3 53.5l2.4 -1.0M582.8 71.9Q586.4 73.3 589.8 75.2M586.4 73.3l1.2 3.2M583.0 64.9Q587.4 61.9 592.7 62.7M580.2 58.4Q583.6 53.3 585.5 47.5M579.5 63.9Q583.6 69.1 590.2 70.0" stroke="#3cf0b4" stroke-width="1.15"/><path d="M600.6 67.2Q604.7 68.9 605.8 73.2M604.7 68.9l4.1 0.2M599.5 70.0Q599.5 74.3 603.0 76.6M599.5 74.3l-1.0 2.7M591.5 53.9Q597.0 57.1 603.4 57.2M596.5 46.0Q600.7 49.1 606.0 49.2M600.7 49.1l3.5 -1.0M600.3 66.5Q603.2 63.0 607.8 62.8M603.2 63.0l3.1 1.1M598.4 57.8Q603.5 60.2 607.6 64.1M603.5 60.2l1.9 4.2M603.9 64.4Q605.5 69.6 610.4 72.1M552.4 78.5Q552.2 82.9 553.0 87.3M599.9 68.7Q604.1 73.3 609.6 76.3" stroke="#64f0b4" stroke-width="1.15"/><path d="M571.1 77.8Q572.2 83.0 577.1 85.3M556.5 61.2Q555.1 56.1 550.3 53.8M555.1 56.1l-0.0 -4.5M563.7 52.8Q557.6 55.2 551.4 53.1M563.5 71.3Q561.1 75.5 558.0 79.3M593.4 68.4Q594.9 73.5 597.8 78.0M587.1 85.1Q585.5 88.1 585.8 91.4M585.5 88.1l1.1 3.7M563.2 72.3Q561.0 74.7 558.2 76.4M561.0 74.7l-1.1 4.0M591.2 55.0Q594.1 50.1 599.1 47.3M594.1 50.1l2.5 -0.7M585.2 71.9Q582.8 76.0 584.9 80.3M582.8 76.0l2.4 3.0M572.6 74.8Q573.0 80.2 573.5 85.6M573.0 80.2l2.4 2.3M572.1 82.9Q568.0 85.2 566.5 89.5M577.3 77.2Q573.8 81.1 572.8 86.2M584.6 48.7Q588.6 48.2 592.5 49.1M587.0 77.0Q591.0 78.2 595.1 77.1M588.8 64.0Q590.8 60.9 594.5 61.3" stroke="#3cdca0" stroke-width="1.15"/><path d="M550.1 61.1Q547.1 59.1 543.7 58.1M547.1 59.1l-2.9 0.3M549.1 56.7Q545.9 58.3 542.4 59.0M572.2 78.4Q576.2 82.2 581.8 82.8M576.2 82.2l1.9 3.4M557.5 70.2Q552.4 69.2 547.2 69.8M552.4 69.2l-2.9 3.2M592.3 77.4Q594.3 81.2 592.0 84.8M594.3 81.2l-2.6 3.8M595.0 56.4Q598.2 53.4 599.8 49.3M554.5 73.8Q551.6 75.8 548.2 75.0M551.6 75.8l-1.9 2.8M562.3 85.6Q559.3 88.1 559.1 91.9M559.3 88.1l0.3 3.3M565.5 85.5Q564.3 89.8 561.9 93.4" stroke="#50f0a0" stroke-width="1.15"/><path d="M601.8 79.5Q605.5 74.7 611.5 74.3M598.6 60.0Q603.7 60.5 608.5 59.0M595.2 47.2Q598.5 47.7 601.8 47.5M598.5 47.7l2.1 -2.2M580.8 88.9Q578.9 93.2 575.6 96.5M578.9 93.2l0.5 3.7M600.7 49.9Q604.6 52.8 609.4 54.0M604.6 52.8l3.3 -0.6M595.6 69.9Q601.9 71.0 606.6 75.3M601.9 71.0l1.5 2.8" stroke="#78ffc8" stroke-width="1.15"/><path d="M570.6 65.9Q572.2 72.0 571.3 78.2M582.6 75.6Q579.9 80.8 579.3 86.6M579.9 80.8l1.6 2.8M581.4 48.9Q586.7 49.6 592.0 49.7M586.7 49.6l2.7 -2.8M570.4 77.0Q564.6 76.2 559.9 79.5M566.6 52.0Q563.4 50.1 560.3 52.0M563.4 50.1l-3.0 -3.4M580.9 56.9Q584.3 58.2 587.7 57.2M584.3 58.2l3.5 2.9" stroke="#3cffc8" stroke-width="1.15"/><path d="M603.1 50.4Q608.3 52.1 613.6 53.7M608.3 52.1l3.9 -1.1M608.5 58.6Q613.1 57.4 617.7 56.4M613.1 57.4l4.3 1.7M613.6 55.7Q617.9 56.2 622.1 55.9M569.5 61.1Q567.3 55.8 566.0 50.2M579.6 54.5Q582.4 50.4 583.8 45.7M582.4 50.4l-0.6 -4.2M584.2 53.2Q585.3 47.9 587.5 43.0M584.4 49.1Q588.7 45.4 593.6 42.7M588.7 45.4l1.2 -3.2M596.2 45.8Q601.4 43.0 607.1 41.2M609.8 60.2Q615.5 59.3 620.9 61.3M615.5 59.3l2.2 3.1M599.9 74.3Q605.2 76.7 609.2 80.9M593.9 83.6Q598.7 85.1 603.7 85.0M582.1 84.2Q587.2 87.9 592.8 90.8M572.1 86.3Q575.2 91.6 579.7 95.8M575.2 91.6l3.1 1.1M569.9 89.7Q573.4 94.8 575.9 100.4M573.4 94.8l2.6 1.4M576.4 84.5Q572.4 90.0 571.0 96.7M567.8 81.1Q565.0 87.2 564.3 93.8M565.0 87.2l-2.0 1.9M566.1 81.6Q565.4 87.8 563.5 93.8M565.4 87.8l1.0 2.8M555.0 87.4Q551.8 90.3 547.7 91.7M554.2 76.1Q547.5 76.2 540.9 77.1M547.5 76.2l-1.9 1.7M541.9 64.4Q538.8 67.6 534.8 69.7M544.0 58.9Q539.2 62.0 534.2 64.6M539.2 62.0l-0.9 2.3M550.8 53.4Q545.0 53.6 539.4 54.6M546.4 55.4Q542.4 54.4 538.4 53.4M542.4 54.4l-2.8 0.8M579.6 48.0Q578.2 40.1 580.4 32.2M579.9 42.5l2.0 -4.0M588.6 46.4Q587.0 37.6 588.2 28.8M596.9 43.0Q596.6 36.8 598.9 30.5M598.2 34.9l-2.7 -4.5M597.3 37.6l3.1 -2.4M602.9 43.0Q602.3 40.1 604.1 37.2M603.7 39.2l-2.7 -2.6M603.3 39.5l2.4 -3.8M569.5 51.4Q569.2 47.2 565.7 43.0M567.8 48.7l2.2 -2.1" stroke="#78f0c8" stroke-width="1.15"/><path d="M577.5 71.7Q575.5 73.9 573.8 76.3M575.5 73.9l-3.5 1.0" stroke="#28f0dc" stroke-width="1.15"/><path d="M572.3 66.9Q571.7 61.9 571.2 56.9M544.9 54.9Q545.0 50.3 544.5 45.8M546.0 58.1Q544.7 52.9 544.9 47.5M564.3 60.8Q570.2 62.2 576.0 64.0M570.2 62.2l3.5 -1.4M545.9 56.3Q545.2 48.6 545.3 40.9M545.2 48.6l2.9 -2.5M567.9 61.8Q572.3 63.0 576.5 64.8M568.2 71.1Q568.5 65.1 573.0 61.1M568.5 65.1l-0.9 -2.9M568.0 64.5Q570.6 68.9 574.2 72.5M570.6 68.9l4.5 0.8M555.4 50.8Q554.4 47.2 554.2 43.5M581.5 60.4Q575.5 61.3 569.4 61.5M575.5 61.3l-3.5 -2.7M561.8 57.7Q560.0 52.6 557.2 48.1M560.0 52.6l-4.2 -1.9M556.2 59.5Q554.6 52.9 552.6 46.4M565.0 58.0Q562.6 53.0 559.8 48.3M562.6 53.0l-3.1 -1.4" stroke="#28c8c8" stroke-width="1.15"/><path d="M579.3 71.7Q583.7 75.2 589.1 74.0M577.5 53.6Q583.0 52.6 588.6 51.7M583.0 52.6l1.7 -2.4M584.7 77.1Q589.3 77.4 593.5 75.6M585.4 67.3Q583.0 72.1 584.8 77.2M580.3 82.1Q576.1 84.3 574.9 89.0M576.1 84.3l-2.9 0.1M588.1 62.5Q592.2 66.5 592.8 72.2M592.2 66.5l3.8 2.2M563.1 58.3Q560.6 53.9 555.7 53.7M560.6 53.9l-1.1 -4.1M573.8 83.8Q576.4 85.8 578.3 88.4M581.8 72.1Q585.0 68.0 590.1 67.5M585.0 68.0l0.7 -2.3" stroke="#28b48c" stroke-width="1.15"/><path d="M581.2 61.7Q581.9 65.1 583.7 68.2M581.9 65.1l-1.1 2.3M573.1 66.0Q570.7 63.9 567.6 63.2M571.2 62.7Q575.3 64.7 579.8 64.7M564.8 71.0Q566.7 75.4 567.9 80.1M568.0 58.9Q564.3 63.6 559.4 67.1M574.9 63.2Q573.6 68.8 573.1 74.5M573.6 68.8l2.4 3.4M566.0 67.2Q564.3 64.6 561.6 63.3M571.1 61.9Q572.2 66.4 570.2 70.6M565.4 64.3Q562.4 67.9 564.1 72.3M562.4 67.9l1.5 3.7M572.5 70.1Q577.5 68.3 582.8 69.2" stroke="#28dcc8" stroke-width="1.15"/><path d="M556.8 62.3Q551.7 64.9 547.5 68.8M561.7 78.7Q557.4 80.7 553.9 83.9M584.7 78.3Q583.0 83.8 580.3 88.7M583.0 83.8l-3.6 2.5M588.7 80.5Q586.9 84.6 588.9 88.6M586.9 84.6l2.9 2.8M558.6 69.6Q555.1 68.5 551.6 67.5M557.7 71.9Q554.4 73.7 552.4 76.7M597.5 54.4Q601.7 50.7 606.2 47.4M577.6 85.3Q579.3 88.1 582.4 89.1M579.3 88.1l0.1 4.4M553.8 72.0Q549.7 73.1 545.8 71.6M549.7 73.1l-3.6 2.1M563.6 86.2Q565.2 90.6 567.9 94.5M550.4 77.5Q546.6 74.5 541.9 75.7" stroke="#3cb478" stroke-width="1.15"/><path d="M567.8 87.8Q568.7 91.3 572.0 92.6M568.7 91.3l2.4 0.5M585.7 76.6Q591.0 77.4 596.0 75.7M591.0 77.4l2.8 1.5M597.0 61.2Q600.2 63.3 602.9 66.0M600.2 63.3l4.5 -0.2M600.6 56.8Q601.9 51.5 605.8 47.6M601.9 51.5l-0.3 -4.3M573.1 88.0Q571.8 92.9 575.2 96.8M571.8 92.9l-1.0 2.7M554.3 76.8Q551.6 81.6 549.4 86.7M574.2 82.6Q573.5 85.7 574.1 88.8M573.5 85.7l2.4 3.5M601.6 56.2Q604.8 60.0 609.4 62.0M604.8 60.0l2.8 -0.5M593.5 53.1Q595.2 48.7 597.1 44.3M595.2 48.7l4.1 -2.2M552.1 49.2Q548.5 50.7 544.7 51.8M547.8 62.7Q545.0 66.7 540.3 68.5M547.5 54.3Q544.1 56.1 541.2 58.7M544.1 56.1l-0.6 4.7M589.9 47.6Q593.4 44.0 598.2 42.6M563.6 88.0Q565.4 92.9 569.5 96.2M547.3 63.9Q544.8 66.3 541.4 65.8M567.2 83.6Q561.5 85.1 556.0 87.3" stroke="#50dca0" stroke-width="1.15"/><path d="M575.2 62.9Q571.5 57.9 567.5 53.2M574.5 57.7Q569.7 53.5 563.3 53.3" stroke="#28f0c8" stroke-width="1.15"/><path d="M593.9 49.6Q599.7 47.0 606.0 47.6M599.7 47.0l1.7 -1.9M602.4 66.5Q607.9 69.1 613.8 70.9M598.9 44.0Q605.0 43.2 609.9 47.1M614.4 60.2Q617.0 57.8 618.9 54.7M617.0 57.8l3.8 -0.3M543.5 73.1Q539.2 73.1 537.6 69.1M602.9 68.8Q609.1 69.3 613.9 73.3M609.1 69.3l1.0 3.3M614.5 56.1Q617.5 55.1 620.5 53.8M602.1 48.7Q608.4 49.7 612.5 54.6" stroke="#64c8a0" stroke-width="1.15"/><path d="M582.4 59.4Q587.6 58.2 592.0 61.3M578.4 58.9Q579.7 53.8 576.3 49.8M581.6 78.7Q579.4 80.9 578.6 84.0M579.4 80.9l-2.3 1.0M564.1 64.2Q561.3 67.6 559.2 71.5M578.5 62.0Q575.3 65.2 575.9 69.7M571.4 68.5Q567.2 65.4 563.2 62.0M567.2 65.4l-0.1 -4.3M575.7 65.9Q572.3 69.1 567.7 69.7M572.3 69.1l-3.1 -0.2M566.6 69.9Q563.5 70.8 560.3 71.0M572.8 61.2Q571.1 65.2 570.1 69.4M576.1 70.8Q572.1 72.7 570.2 76.7M572.1 72.7l-1.2 4.3M572.6 56.4Q569.4 52.3 564.4 50.8M577.1 61.3Q581.2 62.0 584.3 59.3" stroke="#28c8b4" stroke-width="1.15"/><path d="M604.8 48.0Q610.2 49.1 614.0 53.0M579.4 86.5Q574.9 90.6 571.4 95.6M547.0 58.6Q542.4 58.6 538.5 61.0M542.4 58.6l-2.9 3.2M608.0 60.8Q614.1 60.4 620.1 58.9M614.1 60.4l3.6 3.1M602.5 64.8Q603.0 69.3 606.9 71.9M600.1 65.6Q604.8 62.7 609.6 59.8M602.4 58.5Q606.7 58.9 610.7 57.3M606.7 58.9l3.5 2.6M555.5 86.5Q551.1 88.0 546.8 89.2M551.1 88.0l-1.8 3.9" stroke="#50b48c" stroke-width="1.15"/><path d="M571.9 64.0Q567.1 62.4 562.9 59.5M569.0 64.0Q565.1 68.1 565.6 73.8M565.1 68.1l-3.3 2.9M579.8 65.1Q578.8 69.8 581.1 73.9M583.0 58.7Q584.5 55.8 584.2 52.5M584.5 55.8l-1.4 -2.5M569.7 68.3Q568.9 72.3 569.7 76.3M567.5 64.5Q570.8 66.6 570.4 70.4M570.8 66.6l3.7 0.9M573.9 61.7Q578.4 57.9 581.9 53.2M580.0 67.9Q584.6 64.4 590.2 63.3M584.6 64.4l2.6 0.6M577.2 63.8Q581.2 62.0 585.1 64.0M581.4 57.4Q581.1 53.8 580.6 50.1M581.1 53.8l-2.4 -2.2" stroke="#28b4a0" stroke-width="1.15"/><path d="M546.8 62.6Q544.0 64.4 540.8 65.5M544.0 64.4l-3.7 -1.1M551.2 73.1Q547.4 71.5 543.7 69.8M547.4 71.5l-1.7 -3.4M555.8 71.0Q550.3 70.7 546.3 67.0M568.0 82.5Q568.4 88.3 568.1 94.1M588.7 52.8Q587.6 49.8 589.2 47.0M591.1 76.2Q596.0 74.8 600.3 77.5M596.0 74.8l2.0 2.2M579.6 84.0Q577.1 88.3 576.3 93.3M590.4 57.0Q593.4 59.9 597.2 58.0M557.0 53.9Q552.9 55.1 549.7 52.4M552.9 55.1l-3.6 2.4" stroke="#50ffb4" stroke-width="1.15"/><path d="M578.0 84.4Q579.1 89.8 580.1 95.2M583.8 80.4Q584.8 85.0 583.3 89.4M544.0 56.5Q541.4 60.8 536.6 62.1M599.8 67.1Q601.3 70.7 605.2 70.2M551.1 68.3Q547.5 65.0 543.5 62.0" stroke="#64ffb4" stroke-width="1.15"/><path d="M583.8 77.4Q587.3 82.2 586.6 88.1M558.3 74.0Q554.7 73.7 552.6 76.7M554.7 73.7l-1.9 4.1M590.2 52.7Q595.2 50.3 597.8 45.4M555.3 84.3Q556.0 87.4 556.2 90.4M556.0 87.4l-1.2 2.6M564.0 81.6Q565.6 86.2 562.8 90.1M587.0 70.9Q588.5 76.1 586.3 80.9M588.5 76.1l-2.9 3.0M592.1 74.1Q593.1 77.3 595.9 79.1M601.4 70.9Q604.8 71.9 608.2 72.7M604.8 71.9l2.3 3.8M587.8 51.5Q590.7 52.3 593.8 52.0M590.7 52.3l2.0 -1.8M590.5 67.6Q595.2 72.2 601.7 72.4M595.2 72.2l1.3 4.3M563.1 80.8Q563.1 84.5 566.2 86.5M558.1 58.4Q556.6 55.6 554.5 53.2M593.8 56.4Q598.4 54.0 602.8 56.6M578.6 79.4Q579.2 84.6 581.1 89.5M579.2 84.6l3.5 3.1" stroke="#3cb48c" stroke-width="1.15"/><path d="M583.0 80.7Q589.1 81.6 595.3 80.9M589.1 81.6l2.4 -1.5M563.9 68.4Q562.4 73.5 557.8 76.2M582.4 62.1Q585.9 65.1 590.4 64.8M585.9 65.1l1.3 2.6M589.6 67.7Q591.0 73.5 595.7 77.2M563.6 58.0Q558.1 57.5 554.3 53.4M558.1 57.5l-3.3 0.6M583.6 71.6Q588.6 69.1 594.0 68.0M588.6 69.1l2.8 -3.7" stroke="#3cc8a0" stroke-width="1.15"/><path d="M588.0 78.9Q590.9 82.7 590.0 87.5M593.5 75.3Q598.1 79.6 598.7 85.9M558.6 75.8Q555.2 80.2 555.2 85.8" stroke="#50dc8c" stroke-width="1.15"/><path d="M554.1 68.7Q551.0 72.5 546.2 71.7M551.0 72.5l-4.4 -1.3M562.5 72.0Q557.1 74.8 551.5 72.6M557.1 74.8l-2.7 2.1M555.3 77.8Q556.1 82.1 552.4 84.4M556.1 82.1l0.8 3.2M574.8 86.7Q572.6 90.4 575.2 93.8M572.6 90.4l2.1 2.4M590.8 76.1Q593.2 81.1 598.1 83.8M570.5 81.1Q574.5 83.0 574.9 87.4M574.5 83.0l0.2 3.0M573.8 83.5Q573.0 88.8 575.3 93.7M585.7 69.8Q591.4 72.6 597.7 71.6M561.1 70.1Q559.9 73.1 558.3 75.9M559.9 73.1l1.4 4.2M584.6 83.5Q586.5 86.6 588.9 89.3M586.5 86.6l3.0 1.3M577.6 79.6Q582.0 79.2 585.7 81.7M573.1 84.9Q570.4 89.9 564.8 90.9M575.0 84.3Q574.8 90.6 577.3 96.4M559.4 83.0Q561.6 86.9 561.1 91.4M561.6 86.9l-1.8 4.2M566.1 74.5Q567.2 80.6 571.0 85.4M558.1 57.9Q555.0 58.7 552.1 60.1M555.0 58.7l-1.9 4.2" stroke="#50f0b4" stroke-width="1.15"/><path d="M596.6 67.1Q601.5 64.1 607.1 62.7M601.5 64.1l4.1 0.5M610.3 63.2Q613.6 67.0 618.3 68.6M613.6 67.0l0.6 3.1M555.4 78.3Q549.5 80.0 543.3 79.7M549.5 80.0l-3.0 -2.5" stroke="#64dcb4" stroke-width="1.15"/><path d="M570.6 64.1Q574.8 67.9 580.2 69.5M574.8 67.9l2.4 -0.9M575.2 64.6Q570.6 65.3 567.5 68.8M570.6 65.3l-1.2 2.3M564.1 59.6Q561.5 53.9 558.4 48.5M573.6 58.4Q570.7 61.0 566.8 61.0M574.1 64.1Q572.1 61.8 570.2 59.4M556.6 54.3Q555.3 49.6 554.2 44.9M555.3 49.6l-3.0 -2.9M553.9 55.4Q552.6 51.6 552.5 47.5" stroke="#28dcdc" stroke-width="1.15"/><path d="M571.5 76.8Q566.2 78.1 561.0 79.9M566.2 78.1l-2.9 3.2M569.8 70.1Q570.9 76.0 575.1 80.1M570.9 76.0l3.4 1.5M582.7 57.8Q585.3 52.1 583.5 46.1M578.2 68.4Q577.0 72.2 577.7 76.1" stroke="#28c8a0" stroke-width="1.15"/><path d="M548.9 37.9Q546.4 32.6 545.1 26.9M546.4 32.6l-3.5 -1.6" stroke="#3ca0b4" stroke-width="1.15"/><path d="M569.3 62.7Q568.8 58.8 572.2 56.9M568.8 58.8l2.7 -0.6M544.8 44.6Q543.4 40.2 543.2 35.6M543.4 40.2l1.6 -3.3M578.8 66.2Q575.9 61.2 573.5 55.8M579.9 61.1Q574.3 60.5 569.1 58.5" stroke="#28a0a0" stroke-width="1.15"/><path d="M558.9 60.1Q554.2 62.7 549.2 60.6M563.7 65.5Q558.3 63.3 552.5 63.5M562.1 81.6Q559.8 83.5 557.0 84.4M587.2 55.9Q593.7 54.8 599.5 58.0M546.4 65.4Q542.1 66.3 540.7 70.5M542.1 66.3l-2.7 0.5M546.2 66.7Q543.4 68.4 540.6 70.1M568.4 86.6Q565.3 89.6 563.2 93.5M565.3 89.6l-0.4 4.0M555.4 67.9Q550.4 69.7 546.2 72.7M550.4 69.7l-3.4 -1.4M567.8 76.7Q564.1 81.9 563.7 88.2M564.1 81.9l1.9 4.4M586.7 71.7Q592.4 72.6 595.9 77.2M592.4 72.6l4.5 -1.5M579.3 80.1Q574.2 82.8 572.1 88.3M574.2 82.8l-0.4 3.3M584.0 81.7Q587.6 84.2 590.3 87.7M587.6 84.2l4.7 -0.3" stroke="#3cc88c" stroke-width="1.15"/><path d="M579.4 63.3Q585.4 63.1 591.4 63.1M585.4 63.1l2.8 -3.5" stroke="#3cffdc" stroke-width="1.15"/><path d="M595.8 56.0Q600.1 57.6 604.7 58.5M600.1 57.6l3.6 -2.2M585.2 83.2Q584.2 87.6 584.5 92.1M601.7 64.4Q606.9 66.2 609.8 70.8M606.9 66.2l3.2 0.2" stroke="#64ffc8" stroke-width="1.15"/><path d="M568.1 58.3Q574.1 57.2 578.1 52.6M574.1 57.2l4.0 0.6M570.2 52.9Q574.8 52.0 577.6 48.3M561.9 56.4Q558.1 53.9 554.2 51.8M558.1 53.9l-1.0 -3.8M565.8 54.9Q563.8 58.2 560.2 56.9M583.7 66.8Q583.2 71.0 584.6 75.0M559.0 64.7Q555.4 62.8 553.7 59.2M563.5 58.7Q561.2 63.4 558.8 68.1" stroke="#3cf0c8" stroke-width="1.15"/><path d="M554.1 52.0Q552.6 46.9 552.4 41.5M552.6 46.9l2.7 -3.3M554.3 59.6Q551.1 53.2 548.9 46.4M551.1 53.2l-3.0 -1.8M575.9 64.1Q573.9 58.4 574.5 52.3M573.9 58.4l-1.4 -2.0M560.4 58.9Q558.7 54.0 556.5 49.2M558.7 54.0l-4.0 -2.0M557.5 47.9Q556.5 44.1 555.3 40.4M556.5 44.1l1.0 -3.5" stroke="#28b4b4" stroke-width="1.15"/><path d="M580.8 70.0Q584.3 70.1 587.8 70.6M584.3 70.1l2.8 -2.1M565.6 63.6Q562.1 68.5 562.6 74.5M578.0 65.4Q581.9 61.7 587.1 62.8M565.4 66.6Q563.0 63.1 559.3 60.9M563.0 63.1l-4.6 0.1M581.3 72.0Q585.4 74.0 589.9 73.1M585.4 74.0l3.3 -3.0M569.1 72.5Q572.7 73.8 574.5 77.1M572.7 73.8l4.2 -0.5" stroke="#28dcb4" stroke-width="1.15"/><path d="M552.2 75.3Q549.9 80.2 548.4 85.5" stroke="#50b478" stroke-width="1.15"/><path d="M550.3 48.5Q548.3 44.2 546.8 39.8M560.4 52.8Q559.4 46.2 556.3 40.3M559.4 46.2l-3.7 -1.6" stroke="#3cdcf0" stroke-width="1.15"/><path d="M551.1 46.1Q549.2 40.6 548.0 34.8M559.9 49.9Q557.2 43.8 555.2 37.4" stroke="#3cc8c8" stroke-width="1.15"/><path d="M576.7 80.2Q576.7 83.4 577.9 86.4M576.7 83.4l-2.1 3.6" stroke="#3cdc8c" stroke-width="1.15"/><path d="M549.5 35.4Q547.9 31.1 547.3 26.5" stroke="#50dcf0" stroke-width="1.15"/><path d="M543.3 47.0Q542.5 38.9 541.8 30.9" stroke="#50a0a0" stroke-width="1.15"/><path d="M556.0 84.4Q552.8 87.5 548.3 87.2M552.8 87.5l-1.2 3.0M556.1 84.3Q558.6 87.3 556.2 90.4M558.6 87.3l-2.3 3.9M601.8 69.6Q601.8 75.3 605.9 79.3M556.7 59.1Q553.4 53.7 547.3 52.4M553.4 53.7l-2.7 0.0M599.9 64.4Q603.8 63.4 607.9 62.7M603.8 63.4l2.0 -3.7M551.3 54.5Q546.8 54.2 545.0 50.1M599.3 48.9Q602.2 46.9 605.7 46.5M603.5 67.5Q606.3 65.2 609.5 67.0M606.3 65.2l3.6 1.7M562.4 81.8Q566.5 85.0 566.0 90.2" stroke="#50c88c" stroke-width="1.15"/><path d="M552.3 29.1Q550.6 25.0 550.1 20.5M544.9 38.0Q544.7 32.0 543.1 26.3M544.7 32.0l1.3 -2.7" stroke="#8cf0f0" stroke-width="1.15"/><path d="M545.7 69.6Q542.7 71.2 540.4 73.7M542.7 71.2l-1.4 3.7" stroke="#50c8a0" stroke-width="1.15"/><path d="M570.5 76.5Q570.7 81.3 570.2 86.2M570.7 81.3l-1.4 2.4M585.5 68.8Q590.9 67.1 594.8 63.2M589.6 55.1Q589.0 51.6 590.1 48.1M589.0 51.6l-2.8 -3.3M570.2 78.4Q567.6 83.0 567.3 88.3" stroke="#50ffc8" stroke-width="1.15"/><path d="M554.6 51.6Q551.5 46.3 549.1 40.7M543.3 47.6Q541.6 43.3 541.0 38.8M561.6 50.3Q558.8 47.1 557.0 43.2M558.8 47.1l1.0 -3.4M540.3 52.1Q539.7 48.0 538.2 44.2M539.7 48.0l1.0 -2.6" stroke="#3cdcdc" stroke-width="1.15"/><path d="M548.6 80.2Q545.1 82.3 546.1 86.3M604.1 53.6Q608.2 54.1 610.8 57.2M608.2 54.1l0.8 3.3" stroke="#78ffdc" stroke-width="1.15"/><path d="M545.9 48.9Q545.1 43.0 542.9 37.4M545.1 43.0l-3.1 -3.1" stroke="#3cf0f0" stroke-width="1.15"/><path d="M600.6 53.2Q605.6 55.3 610.6 53.2M605.6 55.3l3.1 1.9M602.2 51.4Q606.3 52.9 609.2 49.7M606.3 52.9l1.8 -2.3M606.7 61.6Q612.1 60.8 615.4 56.4" stroke="#64b4a0" stroke-width="1.15"/><path d="M601.9 74.0Q604.2 70.3 608.5 69.4M584.7 81.2Q589.1 84.3 592.8 88.1M589.1 84.3l0.2 2.4" stroke="#64dca0" stroke-width="1.15"/><path d="M575.9 67.2Q575.4 62.1 573.5 57.3" stroke="#28f0f0" stroke-width="1.15"/><path d="M550.7 30.9Q550.0 25.2 548.6 19.6M554.0 38.6Q551.5 31.5 549.0 24.4M551.5 31.5l0.7 -4.2" stroke="#78dcdc" stroke-width="1.15"/><path d="M550.6 36.0Q549.3 29.8 547.4 23.8M549.3 29.8l1.1 -2.2" stroke="#64b4b4" stroke-width="1.15"/><path d="M573.7 63.1Q576.3 65.9 579.7 67.6M576.3 65.9l0.4 3.2" stroke="#3cf0dc" stroke-width="1.15"/><path d="M601.2 42.2Q607.3 41.8 612.4 45.1M594.6 47.7Q598.4 44.0 601.5 39.8M613.3 49.2Q617.3 48.2 621.5 47.5M617.3 48.2l1.6 -3.0M582.9 86.2Q586.5 88.1 589.4 90.9M586.5 88.1l2.8 0.0M579.6 88.4Q581.0 92.9 582.2 97.4M581.0 92.9l-2.1 3.1M556.4 85.3Q555.8 89.1 555.6 93.1M555.8 89.1l1.7 3.5M560.2 88.4Q557.7 92.0 553.6 93.3M557.7 92.0l-2.9 -0.1M549.8 79.7Q548.1 84.5 546.0 89.2M548.1 84.5l-2.8 1.5M549.0 66.7Q544.4 70.0 542.0 75.2" stroke="#78dcb4" stroke-width="1.15"/><path d="M605.2 55.3Q609.7 56.2 613.9 57.9M616.1 55.5Q618.8 54.1 621.8 54.2M609.3 64.9Q613.2 66.1 616.1 68.8" stroke="#8cffdc" stroke-width="1.15"/><path d="M552.8 48.0Q551.2 43.2 550.8 38.2M539.2 50.7Q537.5 45.5 538.6 40.1M537.5 45.5l1.5 -2.2" stroke="#3cc8dc" stroke-width="1.15"/><path d="M556.0 28.3Q554.6 22.8 550.9 18.6" stroke="#8cdcdc" stroke-width="1.15"/><path d="M553.5 28.6Q553.9 24.1 552.0 20.0M553.9 24.1l1.2 -3.4M548.5 29.4Q547.9 24.1 548.0 18.8M547.9 24.1l-2.3 -2.1" stroke="#a0f0f0" stroke-width="1.15"/><path d="M556.5 37.5Q554.0 33.3 554.2 28.4" stroke="#78c8c8" stroke-width="1.15"/><path d="M559.1 42.2Q557.3 37.1 554.6 32.5M557.3 37.1l0.6 -3.5" stroke="#64c8dc" stroke-width="1.15"/><path d="M573.1 61.7Q572.6 55.6 573.9 49.7M573.9 58.6Q574.2 53.2 576.6 48.4M574.2 53.2l2.5 -1.3M589.5 43.9Q594.6 42.4 599.7 41.2M594.6 42.4l3.2 1.7M609.1 49.3Q612.5 46.4 616.9 45.1M612.5 46.4l1.1 -3.1M601.4 74.1Q607.8 72.5 614.3 73.5M607.8 72.5l2.9 2.6M593.5 82.6Q597.4 85.1 601.9 85.8M597.4 85.1l2.4 -1.1M591.1 84.5Q595.1 85.6 598.3 88.1M595.1 85.6l1.4 2.4M544.2 68.9Q540.4 70.0 536.5 70.4M540.4 70.0l-2.0 -1.6M547.5 64.9Q541.9 63.9 536.4 62.1M541.9 63.9l-2.2 -3.5" stroke="#8cf0dc" stroke-width="1.15"/><path d="M611.0 54.0Q615.4 50.9 620.7 49.5M611.3 57.9Q616.2 58.8 620.9 57.2M605.4 72.0Q609.4 75.7 614.3 78.2" stroke="#78f0dc" stroke-width="1.15"/><path d="M542.2 41.8Q540.4 37.9 539.7 33.7M540.4 37.9l-2.7 -2.3" stroke="#64f0f0" stroke-width="1.15"/><path d="M545.8 35.4Q544.8 29.1 544.9 22.8" stroke="#8cc8c8" stroke-width="1.15"/></g>
</g>
<text class="cal" x="87.6" y="121.4" style="font-size:12.5px" textLength="11.8" lengthAdjust="spacingAndGlyphs">10</text>
<text class="cal" x="186.1" y="121.4" style="font-size:12.5px" textLength="11.8" lengthAdjust="spacingAndGlyphs">30</text>
<text class="cal" x="283.1" y="121.4" style="font-size:12.5px" textLength="11.8" lengthAdjust="spacingAndGlyphs">60</text>
<text class="cal" x="379.1" y="121.4" style="font-size:12.5px" textLength="11.8" lengthAdjust="spacingAndGlyphs">90</text>
<text class="cal" x="464.65" y="121.4" style="font-size:12.5px" textLength="17.700000000000003" lengthAdjust="spacingAndGlyphs">120</text>
<text class="cal" x="540" y="121.5" style="font-size:13px" textLength="76" lengthAdjust="spacingAndGlyphs">Liquid Hydrated</text>
<rect x="44" y="129" width="20.5" height="13.8" fill="#000"/>
<rect x="64.3" y="129" width="563.4" height="13.8" fill="url(#cb)"/>
<text x="66.4" y="142" style="font-weight:bold;font-size:15px" fill="#7c0a14" stroke="#7c0a14" stroke-width="0.5" textLength="7" lengthAdjust="spacingAndGlyphs">0</text>
<text class="ser" x="618.3" y="141.7" font-size="15.5px" fill="#4a0a4c" stroke="#4a0a4c" stroke-width="0.4">1</text>
<text class="ser" x="277" y="138.8" font-size="11.5px" fill="#0c3a18" textLength="124" lengthAdjust="spacingAndGlyphs">F<tspan font-size="7.5px" dy="2.2">v</tspan><tspan dy="-2.2">/F</tspan><tspan font-size="7.5px" dy="2.2">m</tspan><tspan dy="-2.2"> false color scale</tspan></text>
<text class="pl" x="15.7" y="169" textLength="15" lengthAdjust="spacingAndGlyphs">B</text>
<rect x="74.4" y="172.4" width="547.4" height="141.7" fill="#fff" stroke="#858585" stroke-width="0.9"/>
<text class="tk" x="69.5" y="182.0" text-anchor="end">0.6</text>
<path d="M71.5 179.7H74" stroke="#555" stroke-width="0.7"/>
<text class="tk" x="69.5" y="217.4" text-anchor="end">0.4</text>
<path d="M71.5 215.1H74" stroke="#555" stroke-width="0.7"/>
<text class="tk" x="69.5" y="252.8" text-anchor="end">0.2</text>
<path d="M71.5 250.5H74" stroke="#555" stroke-width="0.7"/>
<text class="tk" x="69.5" y="288.1" text-anchor="end">0.0</text>
<path d="M71.5 285.8H74" stroke="#555" stroke-width="0.7"/>
<text class="tk" x="597" y="325.3" text-anchor="middle" style="font-size:7.6px">250</text>
<path d="M597.1 314.3V317" stroke="#555" stroke-width="0.7"/>
<text transform="translate(54,243.6) rotate(-90)" font-size="9.5px" fill="#333" text-anchor="middle">YII</text>
<path d="M493 172.5V314" stroke="#5a55cc" stroke-width="1.1"/>
<g fill="#050505"><circle cx="98.8" cy="285.6" r="1.95"/><circle cx="119.8" cy="285.6" r="1.95"/><circle cx="140.4" cy="285.6" r="1.95"/><circle cx="161.1" cy="285.6" r="1.95"/><circle cx="140.4" cy="237.4" r="1.95"/><circle cx="161.1" cy="238.8" r="1.95"/><circle cx="161.1" cy="209.9" r="1.95"/><circle cx="181.7" cy="209.9" r="1.95"/><circle cx="181.7" cy="234.7" r="1.95"/><circle cx="181.7" cy="248.2" r="1.95"/><circle cx="202.7" cy="190.1" r="1.95"/><circle cx="202.7" cy="208.8" r="1.95"/><circle cx="202.7" cy="221.8" r="1.95"/><circle cx="223.5" cy="186.5" r="1.95"/><circle cx="223.5" cy="210.8" r="1.95"/><circle cx="223.5" cy="220" r="1.95"/><circle cx="244" cy="189" r="1.95"/><circle cx="244" cy="202.1" r="1.95"/><circle cx="244" cy="206.3" r="1.95"/><circle cx="265.1" cy="181.3" r="1.95"/><circle cx="265.1" cy="190.5" r="1.95"/><circle cx="285.6" cy="188.3" r="1.95"/><circle cx="285.6" cy="190.5" r="1.95"/><circle cx="285.6" cy="196.7" r="1.95"/><circle cx="285.6" cy="199.7" r="1.95"/><circle cx="306.4" cy="186" r="1.95"/><circle cx="306.4" cy="188.5" r="1.95"/><circle cx="306.4" cy="191.7" r="1.95"/><circle cx="306.4" cy="196.7" r="1.95"/><circle cx="327.2" cy="193" r="1.95"/><circle cx="327.2" cy="197.9" r="1.95"/><circle cx="327.2" cy="203.9" r="1.95"/><circle cx="348" cy="192.7" r="1.95"/><circle cx="348" cy="194.7" r="1.95"/><circle cx="348" cy="197.2" r="1.95"/><circle cx="348" cy="202.9" r="1.95"/><circle cx="410.3" cy="192.7" r="1.95"/><circle cx="410.3" cy="195.2" r="1.95"/><circle cx="410.3" cy="202.6" r="1.95"/><circle cx="472.4" cy="193" r="1.95"/><circle cx="472.4" cy="195.4" r="1.95"/><circle cx="472.4" cy="202.6" r="1.95"/><circle cx="534.8" cy="189.3" r="1.95"/><circle cx="534.8" cy="191.5" r="1.95"/><circle cx="534.8" cy="193.8" r="1.95"/><circle cx="534.8" cy="196.2" r="1.95"/><circle cx="597.1" cy="189.3" r="1.95"/><circle cx="597.1" cy="191.5" r="1.95"/><circle cx="597.1" cy="193.5" r="1.95"/><circle cx="597.1" cy="195.5" r="1.95"/><circle cx="597.1" cy="197.5" r="1.95"/></g>
<path d="M98.8 284.1C102.2 281.7 112.6 274.5 119.5 269.5C126.4 264.5 133.3 259.3 140.2 254.0C147.1 248.7 154.1 242.6 161.0 237.5C167.9 232.4 174.8 227.7 181.7 223.2C188.6 218.7 195.5 214.6 202.5 210.7C209.5 206.8 216.6 203.3 223.5 200.0C230.4 196.7 237.1 193.5 244.0 191.0C250.9 188.5 258.1 186.2 265.0 185.1C271.9 184.0 278.8 184.6 285.6 184.7C292.4 184.8 299.1 185.1 306.0 185.4C312.9 185.7 320.0 186.2 327.0 186.5C334.0 186.8 339.2 187.2 348.0 187.4C356.8 187.6 369.7 187.6 380.0 187.7C390.3 187.8 400.0 187.8 410.0 187.9C420.0 188.0 429.7 188.4 440.0 188.5C450.3 188.6 463.2 188.8 472.0 188.7C480.8 188.6 482.5 188.6 493.0 188.2C503.5 187.9 523.0 187.4 535.0 186.6C547.0 185.8 554.7 185.0 565.0 183.5C575.3 182.0 591.7 178.7 597.0 177.7L597.0 205.7C591.7 205.2 575.3 203.2 565.0 202.5C554.7 201.8 547.0 201.6 535.0 201.8C523.0 202.0 503.5 203.1 493.0 203.6C482.5 204.1 480.8 204.5 472.0 204.7C463.2 204.8 450.3 204.6 440.0 204.5C429.7 204.4 420.0 204.1 410.0 203.9C400.0 203.7 390.3 203.6 380.0 203.3C369.7 203.0 356.8 202.5 348.0 202.0C339.2 201.5 334.0 201.0 327.0 200.5C320.0 200.0 312.9 199.4 306.0 199.0C299.1 198.6 292.4 198.5 285.6 198.3C278.8 198.2 271.9 197.3 265.0 198.1C258.1 198.9 250.9 200.8 244.0 203.0C237.1 205.2 230.4 208.4 223.5 211.6C216.6 214.8 209.5 218.4 202.5 222.3C195.5 226.2 188.6 230.3 181.7 234.8C174.8 239.3 167.9 244.1 161.0 249.5C154.1 254.9 147.1 261.0 140.2 267.0C133.3 273.0 126.4 278.8 119.5 285.5C112.6 292.2 102.2 303.5 98.8 307.1Z" fill="#9094a6" opacity="0.42"/>
<path d="M98.8 295.6C102.2 292.6 112.6 283.4 119.5 277.5C126.4 271.6 133.3 266.2 140.2 260.5C147.1 254.8 154.1 248.8 161.0 243.5C167.9 238.2 174.8 233.5 181.7 229.0C188.6 224.5 195.5 220.4 202.5 216.5C209.5 212.6 216.6 209.1 223.5 205.8C230.4 202.6 237.1 199.4 244.0 197.0C250.9 194.6 258.1 192.5 265.0 191.6C271.9 190.7 278.8 191.4 285.6 191.5C292.4 191.6 299.1 191.9 306.0 192.2C312.9 192.5 320.0 193.1 327.0 193.5C334.0 193.9 339.2 194.4 348.0 194.7C356.8 195.0 369.7 195.3 380.0 195.5C390.3 195.7 400.0 195.7 410.0 195.9C420.0 196.1 429.7 196.4 440.0 196.5C450.3 196.6 463.2 196.8 472.0 196.7C480.8 196.6 482.5 196.3 493.0 195.9C503.5 195.5 523.0 194.7 535.0 194.2C547.0 193.7 554.7 193.4 565.0 193.0C575.3 192.6 591.7 191.9 597.0 191.7" fill="none" stroke="#3c60c6" stroke-width="1.9"/>
<text class="pl" x="11.5" y="330.6" textLength="15.2" lengthAdjust="spacingAndGlyphs">C</text>
<path d="M127.5 336.4H191.6" stroke="#111" stroke-width="1.1"/><rect x="191.6" y="333.5" width="322.4" height="5.8" fill="#fff" stroke="#111" stroke-width="1"/><path d="M385.3 333.5V339.29999999999995" stroke="#111" stroke-width="2"/>
<path d="M127.5 391.5H191.6" stroke="#111" stroke-width="1.1"/><rect x="191.6" y="388.6" width="322.4" height="5.8" fill="#fff" stroke="#111" stroke-width="1"/><path d="M385.3 388.6V394.4" stroke="#111" stroke-width="2"/>
<path d="M127.5 446.6H256.3" stroke="#111" stroke-width="1.1"/><rect x="256.3" y="443.70000000000005" width="257.7" height="5.8" fill="#fff" stroke="#111" stroke-width="1"/>
<path d="M127.5 501.6H191.6" stroke="#111" stroke-width="1.1"/><rect x="191.6" y="498.70000000000005" width="322.4" height="5.8" fill="#fff" stroke="#111" stroke-width="1"/>
<path d="M320.6 443.7V446.6M320.6 501.6V504.5" stroke="#111" stroke-width="1.6"/>
<path d="M81.6 322.5V516.3H559.5" fill="none" stroke="#222" stroke-width="1.1"/>
<path d="M492.6 322.5V516.3" stroke="#222" stroke-width="1.2"/>
<text class="yr" x="74.6" y="340.2" text-anchor="end">2021</text>
<path d="M78.5 336.4H81.6" stroke="#333" stroke-width="1"/>
<text class="yr" x="74.6" y="395.3" text-anchor="end">2020</text>
<path d="M78.5 391.5H81.6" stroke="#333" stroke-width="1"/>
<text class="yr" x="74.6" y="450.40000000000003" text-anchor="end">2019</text>
<path d="M78.5 446.6H81.6" stroke="#333" stroke-width="1"/>
<text class="yr" x="74.6" y="505.40000000000003" text-anchor="end">2018</text>
<path d="M78.5 501.6H81.6" stroke="#333" stroke-width="1"/>
<path d="M170 516.3V519.5" stroke="#333" stroke-width="1"/>
<text transform="translate(169.2,531.5) rotate(-45)" font-size="10px" fill="#4d4d4d" text-anchor="middle" dy="3">50</text>
<path d="M278 516.3V519.5" stroke="#333" stroke-width="1"/>
<text transform="translate(277.2,531.5) rotate(-45)" font-size="10px" fill="#4d4d4d" text-anchor="middle" dy="3">100</text>
<path d="M385.3 516.3V519.5" stroke="#333" stroke-width="1"/>
<text transform="translate(384.5,531.5) rotate(-45)" font-size="10px" fill="#4d4d4d" text-anchor="middle" dy="3">150</text>
<path d="M492.6 516.3V519.5" stroke="#333" stroke-width="1"/>
<text transform="translate(491.8,531.5) rotate(-45)" font-size="10px" fill="#4d4d4d" text-anchor="middle" dy="3">200</text>
<text transform="translate(42.2,419.5) rotate(-90)" font-size="12.6px" fill="#111" text-anchor="middle">Year</text>
<text x="321" y="556" font-size="12.5px" fill="#111" text-anchor="middle" textLength="178" lengthAdjust="spacingAndGlyphs">Minutes &gt; 95% RH &amp; T &gt; 20ºC</text>
<text class="dj" x="536" y="537" font-size="13px" fill="#111" textLength="67" lengthAdjust="spacingAndGlyphs">&gt;200min</text>
<g><circle cx="104.7" cy="334.4" r="3" fill="#000" fill-opacity="0.8"/><circle cx="103.5" cy="340.9" r="3" fill="#000" fill-opacity="0.8"/><circle cx="122.4" cy="334.4" r="3" fill="#000" fill-opacity="0.8"/><circle cx="153.3" cy="331.3" r="3" fill="#000" fill-opacity="0.8"/><circle cx="183.3" cy="337.2" r="3" fill="#000" fill-opacity="0.8"/><circle cx="202.2" cy="338.4" r="3" fill="#000" fill-opacity="0.8"/><circle cx="214.9" cy="340.6" r="3" fill="#000" fill-opacity="0.8"/><circle cx="216.8" cy="340.3" r="3" fill="#000" fill-opacity="0.8"/><circle cx="270.8" cy="334.4" r="3" fill="#000" fill-opacity="0.62"/><circle cx="281.6" cy="339.7" r="3" fill="#000" fill-opacity="0.8"/><circle cx="331.8" cy="340.6" r="3" fill="#000" fill-opacity="0.8"/><circle cx="334.6" cy="333.5" r="3" fill="#000" fill-opacity="0.62"/><circle cx="387.2" cy="338.7" r="3" fill="#000" fill-opacity="0.8"/><circle cx="395.2" cy="340.6" r="3" fill="#000" fill-opacity="0.8"/><circle cx="430.3" cy="334.4" r="3" fill="#000" fill-opacity="0.62"/><circle cx="446.4" cy="335.3" r="3" fill="#000" fill-opacity="0.62"/><circle cx="463.8" cy="336" r="3" fill="#000" fill-opacity="0.62"/><circle cx="497.2" cy="332.9" r="3" fill="#000" fill-opacity="0.8"/><circle cx="499" cy="332.9" r="3" fill="#000" fill-opacity="0.8"/><circle cx="512.7" cy="341.2" r="3" fill="#000" fill-opacity="0.8"/><circle cx="517.6" cy="338.4" r="3" fill="#000" fill-opacity="0.8"/><circle cx="522.9" cy="330.7" r="3" fill="#000" fill-opacity="0.8"/><circle cx="524.8" cy="330.7" r="3" fill="#000" fill-opacity="0.8"/><circle cx="526.3" cy="337.5" r="3" fill="#000" fill-opacity="0.8"/><circle cx="529.1" cy="341.2" r="3" fill="#000" fill-opacity="0.8"/><circle cx="105.6" cy="391.4" r="3" fill="#000" fill-opacity="0.8"/><circle cx="115.5" cy="387.3" r="3" fill="#000" fill-opacity="0.8"/><circle cx="121.1" cy="396.6" r="3" fill="#000" fill-opacity="0.8"/><circle cx="128.5" cy="396" r="3" fill="#000" fill-opacity="0.8"/><circle cx="136" cy="387.3" r="3" fill="#000" fill-opacity="0.8"/><circle cx="146.2" cy="389.8" r="3" fill="#000" fill-opacity="0.8"/><circle cx="182.1" cy="389.8" r="3" fill="#000" fill-opacity="0.8"/><circle cx="185.5" cy="388.6" r="3" fill="#000" fill-opacity="0.8"/><circle cx="202.2" cy="390.1" r="3" fill="#000" fill-opacity="0.8"/><circle cx="208.1" cy="389.8" r="3" fill="#000" fill-opacity="0.8"/><circle cx="269.2" cy="388.6" r="3" fill="#000" fill-opacity="0.8"/><circle cx="281" cy="394.2" r="3" fill="#000" fill-opacity="0.8"/><circle cx="309.8" cy="395.4" r="3" fill="#000" fill-opacity="0.8"/><circle cx="323.7" cy="393.2" r="3" fill="#000" fill-opacity="0.8"/><circle cx="325.3" cy="388" r="3" fill="#000" fill-opacity="0.8"/><circle cx="375.7" cy="394.5" r="3" fill="#000" fill-opacity="0.8"/><circle cx="404.8" cy="394.2" r="3" fill="#000" fill-opacity="0.8"/><circle cx="434.7" cy="393.5" r="3" fill="#000" fill-opacity="0.8"/><circle cx="460.4" cy="388.3" r="3" fill="#000" fill-opacity="0.8"/><circle cx="495.4" cy="386.1" r="3" fill="#000" fill-opacity="0.8"/><circle cx="496.6" cy="393.2" r="3" fill="#000" fill-opacity="0.8"/><circle cx="499.7" cy="393.2" r="3" fill="#000" fill-opacity="0.8"/><circle cx="508" cy="388.6" r="3" fill="#000" fill-opacity="0.8"/><circle cx="514.6" cy="387.3" r="3" fill="#000" fill-opacity="0.8"/><circle cx="516.7" cy="387.3" r="3" fill="#000" fill-opacity="0.8"/><circle cx="520.7" cy="390.8" r="3" fill="#000" fill-opacity="0.8"/><circle cx="532.2" cy="388" r="3" fill="#000" fill-opacity="0.8"/><circle cx="532.2" cy="391.7" r="3" fill="#000" fill-opacity="0.8"/><circle cx="535.6" cy="394.5" r="3" fill="#000" fill-opacity="0.8"/><circle cx="539" cy="396.6" r="3" fill="#000" fill-opacity="0.8"/><circle cx="108.4" cy="448" r="3" fill="#000" fill-opacity="0.8"/><circle cx="116.2" cy="445.2" r="3" fill="#000" fill-opacity="0.8"/><circle cx="120.8" cy="451.1" r="3" fill="#000" fill-opacity="0.8"/><circle cx="206.3" cy="442.8" r="3" fill="#000" fill-opacity="0.8"/><circle cx="209.7" cy="442.8" r="3" fill="#000" fill-opacity="0.8"/><circle cx="212.4" cy="442.1" r="3" fill="#000" fill-opacity="0.8"/><circle cx="214.9" cy="441.8" r="3" fill="#000" fill-opacity="0.8"/><circle cx="233.2" cy="445.9" r="3" fill="#000" fill-opacity="0.8"/><circle cx="267" cy="444.3" r="3" fill="#000" fill-opacity="0.8"/><circle cx="268.9" cy="444" r="3" fill="#000" fill-opacity="0.8"/><circle cx="295.9" cy="442.5" r="3" fill="#000" fill-opacity="0.8"/><circle cx="303" cy="447.4" r="3" fill="#000" fill-opacity="0.62"/><circle cx="316" cy="447.4" r="3" fill="#000" fill-opacity="0.62"/><circle cx="319.7" cy="445.9" r="3" fill="#000" fill-opacity="0.8"/><circle cx="332.7" cy="451.7" r="3" fill="#000" fill-opacity="0.8"/><circle cx="342.9" cy="448.7" r="3" fill="#000" fill-opacity="0.8"/><circle cx="379.8" cy="444.3" r="3" fill="#000" fill-opacity="0.8"/><circle cx="460.9" cy="443.5" r="3" fill="#000" fill-opacity="0.8"/><circle cx="462.8" cy="443.5" r="3" fill="#000" fill-opacity="0.8"/><circle cx="489.5" cy="445.8" r="3" fill="#000" fill-opacity="0.62"/><circle cx="493.3" cy="443.1" r="3" fill="#000" fill-opacity="0.8"/><circle cx="493.3" cy="448.5" r="3" fill="#000" fill-opacity="0.8"/><circle cx="500.9" cy="446.6" r="3" fill="#000" fill-opacity="0.8"/><circle cx="500.9" cy="449.6" r="3" fill="#000" fill-opacity="0.8"/><circle cx="504.7" cy="443.9" r="3" fill="#000" fill-opacity="0.8"/><circle cx="505.9" cy="447.3" r="3" fill="#000" fill-opacity="0.8"/><circle cx="505.9" cy="450.4" r="3" fill="#000" fill-opacity="0.8"/><circle cx="509.3" cy="442" r="3" fill="#000" fill-opacity="0.8"/><circle cx="510.4" cy="447.7" r="3" fill="#000" fill-opacity="0.8"/><circle cx="517.3" cy="445" r="3" fill="#000" fill-opacity="0.8"/><circle cx="106.9" cy="497.9" r="3" fill="#000" fill-opacity="0.8"/><circle cx="106.3" cy="501" r="3" fill="#000" fill-opacity="0.8"/><circle cx="129.5" cy="501.6" r="3" fill="#000" fill-opacity="0.8"/><circle cx="144.6" cy="500" r="3" fill="#000" fill-opacity="0.8"/><circle cx="150.5" cy="498.5" r="3" fill="#000" fill-opacity="0.8"/><circle cx="153" cy="501" r="3" fill="#000" fill-opacity="0.8"/><circle cx="171.9" cy="505.3" r="3" fill="#000" fill-opacity="0.8"/><circle cx="175.3" cy="501.6" r="3" fill="#000" fill-opacity="0.8"/><circle cx="187.4" cy="506.5" r="3" fill="#000" fill-opacity="0.8"/><circle cx="203.2" cy="502.2" r="3" fill="#000" fill-opacity="0.8"/><circle cx="204.4" cy="500.4" r="3" fill="#000" fill-opacity="0.8"/><circle cx="214.9" cy="501.9" r="3" fill="#000" fill-opacity="0.8"/><circle cx="248.2" cy="500.7" r="3" fill="#000" fill-opacity="0.62"/><circle cx="269.8" cy="496.6" r="3" fill="#000" fill-opacity="0.8"/><circle cx="299.9" cy="497.3" r="3" fill="#000" fill-opacity="0.8"/><circle cx="323.7" cy="497.3" r="3" fill="#000" fill-opacity="0.8"/><circle cx="329.9" cy="505.9" r="3" fill="#000" fill-opacity="0.8"/><circle cx="342" cy="498.5" r="3" fill="#000" fill-opacity="0.8"/><circle cx="460.9" cy="500.6" r="3" fill="#000" fill-opacity="0.62"/><circle cx="489.5" cy="506.7" r="3" fill="#000" fill-opacity="0.8"/><circle cx="494" cy="506.7" r="3" fill="#000" fill-opacity="0.8"/><circle cx="502" cy="498.7" r="3" fill="#000" fill-opacity="0.8"/><circle cx="502" cy="504" r="3" fill="#000" fill-opacity="0.8"/><circle cx="505.9" cy="498.7" r="3" fill="#000" fill-opacity="0.8"/><circle cx="507.8" cy="500.6" r="3" fill="#000" fill-opacity="0.8"/><circle cx="511.6" cy="496.8" r="3" fill="#000" fill-opacity="0.8"/><circle cx="519.6" cy="506" r="3" fill="#000" fill-opacity="0.8"/><circle cx="523.8" cy="497.2" r="3" fill="#000" fill-opacity="0.8"/></g>
</svg></body></html>
